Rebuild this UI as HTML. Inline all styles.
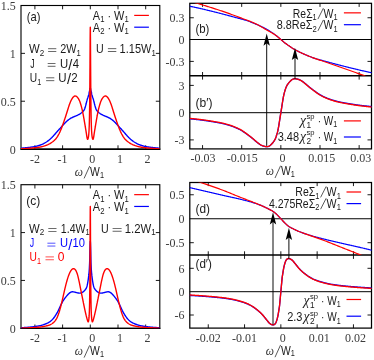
<!DOCTYPE html>
<html><head><meta charset="utf-8"><title>figure</title>
<style>html,body{margin:0;padding:0;background:#fff;}svg{display:block;will-change:transform;}text{white-space:pre;}</style></head>
<body>
<svg width="374" height="360" viewBox="0 0 374 360">
<rect width="374" height="360" fill="#fff"/>
<defs>
<clipPath id="cA"><rect x="21.0" y="5.5" width="138.8" height="143.6"/></clipPath>
<clipPath id="cC"><rect x="21.0" y="184.7" width="138.8" height="143.6"/></clipPath>
<clipPath id="cB"><rect x="189.8" y="3.3" width="181.7" height="72.5"/></clipPath>
<clipPath id="cB2"><rect x="189.8" y="75.8" width="181.7" height="73.10000000000001"/></clipPath>
<clipPath id="cD"><rect x="189.8" y="182.5" width="181.7" height="72.6"/></clipPath>
<clipPath id="cD2"><rect x="189.8" y="255.1" width="181.7" height="73.00000000000003"/></clipPath>
</defs>
<rect x="21.0" y="5.5" width="138.8" height="143.6" fill="none" stroke="#000000" stroke-width="1.12"/>
<line x1="20.44" y1="149.2" x2="160.36" y2="149.2" stroke="#000000" stroke-width="1.35" />
<line x1="34.9" y1="149.1" x2="34.9" y2="145.3" stroke="#000000" stroke-width="0.9" />
<line x1="34.9" y1="5.5" x2="34.9" y2="9.3" stroke="#000000" stroke-width="0.9" />
<line x1="62.6" y1="149.1" x2="62.6" y2="145.3" stroke="#000000" stroke-width="0.9" />
<line x1="62.6" y1="5.5" x2="62.6" y2="9.3" stroke="#000000" stroke-width="0.9" />
<line x1="90.3" y1="149.1" x2="90.3" y2="145.3" stroke="#000000" stroke-width="0.9" />
<line x1="90.3" y1="5.5" x2="90.3" y2="9.3" stroke="#000000" stroke-width="0.9" />
<line x1="118" y1="149.1" x2="118" y2="145.3" stroke="#000000" stroke-width="0.9" />
<line x1="118" y1="5.5" x2="118" y2="9.3" stroke="#000000" stroke-width="0.9" />
<line x1="145.7" y1="149.1" x2="145.7" y2="145.3" stroke="#000000" stroke-width="0.9" />
<line x1="145.7" y1="5.5" x2="145.7" y2="9.3" stroke="#000000" stroke-width="0.9" />
<line x1="21" y1="101.23" x2="25" y2="101.23" stroke="#000000" stroke-width="0.9" />
<line x1="159.8" y1="101.23" x2="155.8" y2="101.23" stroke="#000000" stroke-width="0.9" />
<line x1="21" y1="53.37" x2="25" y2="53.37" stroke="#000000" stroke-width="0.9" />
<line x1="159.8" y1="53.37" x2="155.8" y2="53.37" stroke="#000000" stroke-width="0.9" />
<rect x="21.0" y="184.7" width="138.8" height="143.6" fill="none" stroke="#000000" stroke-width="1.12"/>
<line x1="20.44" y1="328.4" x2="160.36" y2="328.4" stroke="#000000" stroke-width="1.35" />
<line x1="34.9" y1="328.3" x2="34.9" y2="324.5" stroke="#000000" stroke-width="0.9" />
<line x1="34.9" y1="184.7" x2="34.9" y2="188.5" stroke="#000000" stroke-width="0.9" />
<line x1="62.6" y1="328.3" x2="62.6" y2="324.5" stroke="#000000" stroke-width="0.9" />
<line x1="62.6" y1="184.7" x2="62.6" y2="188.5" stroke="#000000" stroke-width="0.9" />
<line x1="90.3" y1="328.3" x2="90.3" y2="324.5" stroke="#000000" stroke-width="0.9" />
<line x1="90.3" y1="184.7" x2="90.3" y2="188.5" stroke="#000000" stroke-width="0.9" />
<line x1="118" y1="328.3" x2="118" y2="324.5" stroke="#000000" stroke-width="0.9" />
<line x1="118" y1="184.7" x2="118" y2="188.5" stroke="#000000" stroke-width="0.9" />
<line x1="145.7" y1="328.3" x2="145.7" y2="324.5" stroke="#000000" stroke-width="0.9" />
<line x1="145.7" y1="184.7" x2="145.7" y2="188.5" stroke="#000000" stroke-width="0.9" />
<line x1="21" y1="280.43" x2="25" y2="280.43" stroke="#000000" stroke-width="0.9" />
<line x1="159.8" y1="280.43" x2="155.8" y2="280.43" stroke="#000000" stroke-width="0.9" />
<line x1="21" y1="232.57" x2="25" y2="232.57" stroke="#000000" stroke-width="0.9" />
<line x1="159.8" y1="232.57" x2="155.8" y2="232.57" stroke="#000000" stroke-width="0.9" />
<rect x="189.8" y="3.3" width="181.7" height="145.6" fill="none" stroke="#000000" stroke-width="1.25"/>
<line x1="189.8" y1="75.8" x2="371.5" y2="75.8" stroke="#000000" stroke-width="1.5" />
<line x1="189.8" y1="39.5" x2="371.5" y2="39.5" stroke="#000000" stroke-width="1.0" />
<line x1="189.8" y1="112.7" x2="371.5" y2="112.7" stroke="#000000" stroke-width="1.0" />
<line x1="202.55" y1="3.3" x2="202.55" y2="6.9" stroke="#000000" stroke-width="0.9" />
<line x1="202.55" y1="72" x2="202.55" y2="79.6" stroke="#000000" stroke-width="0.9" />
<line x1="202.55" y1="148.9" x2="202.55" y2="145.1" stroke="#000000" stroke-width="0.9" />
<line x1="241.7" y1="3.3" x2="241.7" y2="6.9" stroke="#000000" stroke-width="0.9" />
<line x1="241.7" y1="72" x2="241.7" y2="79.6" stroke="#000000" stroke-width="0.9" />
<line x1="241.7" y1="148.9" x2="241.7" y2="145.1" stroke="#000000" stroke-width="0.9" />
<line x1="280.85" y1="3.3" x2="280.85" y2="6.9" stroke="#000000" stroke-width="0.9" />
<line x1="280.85" y1="72" x2="280.85" y2="79.6" stroke="#000000" stroke-width="0.9" />
<line x1="280.85" y1="148.9" x2="280.85" y2="145.1" stroke="#000000" stroke-width="0.9" />
<line x1="320" y1="3.3" x2="320" y2="6.9" stroke="#000000" stroke-width="0.9" />
<line x1="320" y1="72" x2="320" y2="79.6" stroke="#000000" stroke-width="0.9" />
<line x1="320" y1="148.9" x2="320" y2="145.1" stroke="#000000" stroke-width="0.9" />
<line x1="359.15" y1="3.3" x2="359.15" y2="6.9" stroke="#000000" stroke-width="0.9" />
<line x1="359.15" y1="72" x2="359.15" y2="79.6" stroke="#000000" stroke-width="0.9" />
<line x1="359.15" y1="148.9" x2="359.15" y2="145.1" stroke="#000000" stroke-width="0.9" />
<line x1="189.8" y1="17.75" x2="193.8" y2="17.75" stroke="#000000" stroke-width="0.9" />
<line x1="371.5" y1="17.75" x2="367.5" y2="17.75" stroke="#000000" stroke-width="0.9" />
<line x1="189.8" y1="61.4" x2="193.8" y2="61.4" stroke="#000000" stroke-width="0.9" />
<line x1="371.5" y1="61.4" x2="367.5" y2="61.4" stroke="#000000" stroke-width="0.9" />
<line x1="189.8" y1="85.4" x2="193.8" y2="85.4" stroke="#000000" stroke-width="0.9" />
<line x1="371.5" y1="85.4" x2="367.5" y2="85.4" stroke="#000000" stroke-width="0.9" />
<line x1="189.8" y1="139.9" x2="193.8" y2="139.9" stroke="#000000" stroke-width="0.9" />
<line x1="371.5" y1="139.9" x2="367.5" y2="139.9" stroke="#000000" stroke-width="0.9" />
<rect x="189.8" y="182.5" width="181.7" height="145.6" fill="none" stroke="#000000" stroke-width="1.25"/>
<line x1="189.8" y1="255.1" x2="371.5" y2="255.1" stroke="#000000" stroke-width="1.5" />
<line x1="189.8" y1="218.75" x2="371.5" y2="218.75" stroke="#000000" stroke-width="1.0" />
<line x1="189.8" y1="291.7" x2="371.5" y2="291.7" stroke="#000000" stroke-width="1.0" />
<line x1="208.25" y1="182.5" x2="208.25" y2="186.1" stroke="#000000" stroke-width="0.9" />
<line x1="208.25" y1="251.3" x2="208.25" y2="258.9" stroke="#000000" stroke-width="0.9" />
<line x1="208.25" y1="328.1" x2="208.25" y2="324.3" stroke="#000000" stroke-width="0.9" />
<line x1="244.55" y1="182.5" x2="244.55" y2="186.1" stroke="#000000" stroke-width="0.9" />
<line x1="244.55" y1="251.3" x2="244.55" y2="258.9" stroke="#000000" stroke-width="0.9" />
<line x1="244.55" y1="328.1" x2="244.55" y2="324.3" stroke="#000000" stroke-width="0.9" />
<line x1="280.85" y1="182.5" x2="280.85" y2="186.1" stroke="#000000" stroke-width="0.9" />
<line x1="280.85" y1="251.3" x2="280.85" y2="258.9" stroke="#000000" stroke-width="0.9" />
<line x1="280.85" y1="328.1" x2="280.85" y2="324.3" stroke="#000000" stroke-width="0.9" />
<line x1="317.15" y1="182.5" x2="317.15" y2="186.1" stroke="#000000" stroke-width="0.9" />
<line x1="317.15" y1="251.3" x2="317.15" y2="258.9" stroke="#000000" stroke-width="0.9" />
<line x1="317.15" y1="328.1" x2="317.15" y2="324.3" stroke="#000000" stroke-width="0.9" />
<line x1="353.45" y1="182.5" x2="353.45" y2="186.1" stroke="#000000" stroke-width="0.9" />
<line x1="353.45" y1="251.3" x2="353.45" y2="258.9" stroke="#000000" stroke-width="0.9" />
<line x1="353.45" y1="328.1" x2="353.45" y2="324.3" stroke="#000000" stroke-width="0.9" />
<line x1="189.8" y1="194.75" x2="193.8" y2="194.75" stroke="#000000" stroke-width="0.9" />
<line x1="371.5" y1="194.75" x2="367.5" y2="194.75" stroke="#000000" stroke-width="0.9" />
<line x1="189.8" y1="242.7" x2="193.8" y2="242.7" stroke="#000000" stroke-width="0.9" />
<line x1="371.5" y1="242.7" x2="367.5" y2="242.7" stroke="#000000" stroke-width="0.9" />
<line x1="189.8" y1="268.3" x2="193.8" y2="268.3" stroke="#000000" stroke-width="0.9" />
<line x1="371.5" y1="268.3" x2="367.5" y2="268.3" stroke="#000000" stroke-width="0.9" />
<line x1="189.8" y1="315" x2="193.8" y2="315" stroke="#000000" stroke-width="0.9" />
<line x1="371.5" y1="315" x2="367.5" y2="315" stroke="#000000" stroke-width="0.9" />
<path d="M21.05 148.19 L21.45 148.16 L21.84 148.14 L22.24 148.11 L22.63 148.07 L23.03 148.04 L23.42 148.01 L23.82 147.97 L24.22 147.94 L24.61 147.9 L25.01 147.86 L25.4 147.82 L25.8 147.78 L26.19 147.74 L26.59 147.7 L26.99 147.65 L27.38 147.61 L27.78 147.56 L28.17 147.51 L28.57 147.47 L28.96 147.42 L29.36 147.37 L29.76 147.32 L30.15 147.27 L30.55 147.22 L30.94 147.17 L31.34 147.11 L31.73 147.06 L32.13 147 L32.53 146.95 L32.92 146.89 L33.32 146.83 L33.71 146.76 L34.11 146.7 L34.5 146.62 L34.9 146.55 L35.3 146.46 L35.69 146.38 L36.09 146.29 L36.48 146.19 L36.88 146.09 L37.27 145.98 L37.67 145.88 L38.07 145.76 L38.46 145.65 L38.86 145.53 L39.25 145.41 L39.65 145.28 L40.04 145.15 L40.44 145.01 L40.84 144.86 L41.23 144.71 L41.63 144.56 L42.02 144.39 L42.42 144.22 L42.81 144.04 L43.21 143.85 L43.61 143.65 L44 143.44 L44.4 143.22 L44.79 143 L45.19 142.76 L45.58 142.52 L45.98 142.27 L46.38 142.01 L46.77 141.74 L47.17 141.47 L47.56 141.18 L47.96 140.89 L48.35 140.58 L48.75 140.27 L49.15 139.95 L49.54 139.62 L49.94 139.28 L50.33 138.93 L50.73 138.57 L51.12 138.2 L51.52 137.82 L51.92 137.43 L52.31 137.03 L52.71 136.61 L53.1 136.19 L53.5 135.76 L53.89 135.32 L54.29 134.88 L54.69 134.43 L55.08 133.98 L55.48 133.52 L55.87 133.07 L56.27 132.61 L56.66 132.16 L57.06 131.7 L57.46 131.25 L57.85 130.81 L58.25 130.36 L58.64 129.92 L59.04 129.48 L59.43 129.04 L59.83 128.6 L60.23 128.17 L60.62 127.73 L61.02 127.3 L61.41 126.86 L61.81 126.42 L62.2 125.99 L62.6 125.55 L63 125.12 L63.39 124.69 L63.79 124.25 L64.18 123.82 L64.58 123.4 L64.97 122.98 L65.37 122.56 L65.77 122.16 L66.16 121.77 L66.56 121.4 L66.95 121.04 L67.35 120.7 L67.74 120.37 L68.14 120.07 L68.54 119.77 L68.93 119.49 L69.33 119.22 L69.72 118.96 L70.12 118.7 L70.51 118.45 L70.91 118.21 L71.31 117.98 L71.7 117.76 L72.1 117.55 L72.49 117.35 L72.89 117.16 L73.28 116.99 L73.68 116.82 L74.08 116.65 L74.47 116.5 L74.87 116.34 L75.26 116.19 L75.66 116.03 L76.05 115.87 L76.45 115.7 L76.85 115.52 L77.24 115.34 L77.64 115.15 L78.03 114.95 L78.43 114.73 L78.82 114.52 L79.22 114.29 L79.62 114.05 L80.01 113.81 L80.41 113.55 L80.8 113.28 L81.2 113 L81.59 112.7 L81.99 112.37 L82.06 112.31 L82.13 112.25 L82.2 112.19 L82.27 112.13 L82.34 112.07 L82.39 112.03 L82.41 112.01 L82.47 111.95 L82.54 111.89 L82.61 111.83 L82.68 111.76 L82.75 111.7 L82.78 111.67 L82.82 111.63 L82.89 111.57 L82.96 111.5 L83.03 111.43 L83.1 111.36 L83.17 111.29 L83.18 111.28 L83.24 111.21 L83.31 111.13 L83.38 111.06 L83.44 110.97 L83.51 110.89 L83.57 110.82 L83.58 110.8 L83.65 110.71 L83.72 110.62 L83.79 110.52 L83.86 110.42 L83.93 110.32 L83.97 110.26 L84 110.22 L84.07 110.1 L84.14 109.99 L84.21 109.87 L84.28 109.73 L84.34 109.59 L84.36 109.55 L84.41 109.45 L84.48 109.29 L84.55 109.13 L84.62 108.95 L84.69 108.77 L84.76 108.59 L84.83 108.39 L84.9 108.19 L84.97 107.98 L85.04 107.76 L85.11 107.54 L85.16 107.38 L85.18 107.32 L85.24 107.08 L85.31 106.85 L85.38 106.6 L85.45 106.36 L85.52 106.11 L85.55 106.01 L85.59 105.86 L85.66 105.61 L85.73 105.36 L85.8 105.1 L85.87 104.84 L85.94 104.57 L85.95 104.53 L86.01 104.29 L86.08 104.02 L86.14 103.73 L86.21 103.45 L86.28 103.16 L86.34 102.92 L86.35 102.88 L86.42 102.59 L86.49 102.3 L86.56 102.02 L86.63 101.73 L86.7 101.45 L86.74 101.29 L86.77 101.18 L86.84 100.9 L86.91 100.64 L86.98 100.38 L87.05 100.13 L87.11 99.88 L87.13 99.81 L87.18 99.64 L87.25 99.41 L87.32 99.19 L87.39 98.97 L87.46 98.75 L87.53 98.54 L87.6 98.33 L87.67 98.12 L87.74 97.92 L87.81 97.71 L87.88 97.51 L87.93 97.36 L87.95 97.3 L88.01 97.09 L88.08 96.88 L88.15 96.67 L88.22 96.45 L88.29 96.23 L88.32 96.13 L88.36 96 L88.43 95.76 L88.5 95.52 L88.57 95.27 L88.64 95.01 L88.67 94.9 L88.69 94.79 L88.71 94.74 L88.72 94.7 L88.72 94.68 L88.75 94.57 L88.78 94.45 L88.8 94.33 L88.83 94.21 L88.85 94.15 L88.86 94.08 L88.89 93.96 L88.91 93.83 L88.94 93.7 L88.97 93.57 L88.98 93.51 L89 93.44 L89.03 93.31 L89.05 93.18 L89.08 93.05 L89.11 92.91 L89.11 92.89 L89.12 92.85 L89.14 92.78 L89.16 92.65 L89.19 92.51 L89.22 92.38 L89.25 92.24 L89.26 92.18 L89.28 92.11 L89.3 91.98 L89.33 91.85 L89.36 91.72 L89.39 91.59 L89.4 91.52 L89.41 91.46 L89.44 91.33 L89.47 91.21 L89.5 91.09 L89.51 91.03 L89.52 90.96 L89.54 90.9 L89.55 90.83 L89.58 90.7 L89.61 90.57 L89.64 90.44 L89.66 90.31 L89.68 90.24 L89.69 90.17 L89.72 90.04 L89.75 89.9 L89.77 89.77 L89.8 89.64 L89.82 89.58 L89.83 89.51 L89.86 89.39 L89.88 89.27 L89.9 89.18 L89.91 89.15 L89.94 89.03 L89.95 88.98 L89.97 88.93 L90 88.82 L90.02 88.73 L90.05 88.64 L90.08 88.55 L90.09 88.52 L90.11 88.48 L90.13 88.41 L90.16 88.35 L90.19 88.3 L90.22 88.27 L90.23 88.25 L90.24 88.24 L90.27 88.22 L90.3 88.21 L90.33 88.22 L90.36 88.24 L90.37 88.25 L90.38 88.27 L90.41 88.3 L90.44 88.35 L90.47 88.41 L90.49 88.48 L90.51 88.52 L90.52 88.55 L90.55 88.64 L90.58 88.73 L90.6 88.82 L90.63 88.93 L90.65 88.98 L90.66 89.03 L90.69 89.15 L90.7 89.18 L90.72 89.27 L90.74 89.39 L90.77 89.51 L90.78 89.58 L90.8 89.64 L90.83 89.77 L90.85 89.9 L90.88 90.04 L90.91 90.17 L90.92 90.24 L90.94 90.31 L90.96 90.44 L90.99 90.57 L91.02 90.7 L91.05 90.83 L91.06 90.9 L91.08 90.96 L91.09 91.03 L91.1 91.09 L91.13 91.21 L91.16 91.33 L91.19 91.46 L91.2 91.52 L91.21 91.59 L91.24 91.72 L91.27 91.85 L91.3 91.98 L91.32 92.11 L91.34 92.18 L91.35 92.24 L91.38 92.38 L91.41 92.51 L91.44 92.65 L91.46 92.78 L91.48 92.85 L91.49 92.89 L91.49 92.91 L91.52 93.05 L91.55 93.18 L91.57 93.31 L91.6 93.44 L91.62 93.51 L91.63 93.57 L91.66 93.7 L91.69 93.83 L91.71 93.96 L91.74 94.08 L91.75 94.15 L91.77 94.21 L91.8 94.33 L91.82 94.45 L91.85 94.57 L91.88 94.68 L91.88 94.7 L91.89 94.74 L91.91 94.79 L91.93 94.9 L91.96 95.01 L92.03 95.27 L92.1 95.52 L92.17 95.76 L92.24 96 L92.28 96.13 L92.31 96.23 L92.38 96.45 L92.45 96.67 L92.52 96.88 L92.59 97.09 L92.65 97.3 L92.67 97.36 L92.72 97.51 L92.79 97.71 L92.86 97.92 L92.93 98.12 L93 98.33 L93.07 98.54 L93.14 98.75 L93.21 98.97 L93.28 99.19 L93.35 99.41 L93.42 99.64 L93.47 99.81 L93.49 99.88 L93.55 100.13 L93.62 100.38 L93.69 100.64 L93.76 100.9 L93.83 101.18 L93.86 101.29 L93.9 101.45 L93.97 101.73 L94.04 102.02 L94.11 102.3 L94.18 102.59 L94.25 102.88 L94.26 102.92 L94.32 103.16 L94.39 103.45 L94.45 103.73 L94.52 104.02 L94.59 104.29 L94.65 104.53 L94.66 104.57 L94.73 104.84 L94.8 105.1 L94.87 105.36 L94.94 105.61 L95.01 105.86 L95.05 106.01 L95.08 106.11 L95.15 106.36 L95.22 106.6 L95.29 106.85 L95.36 107.08 L95.42 107.32 L95.44 107.38 L95.49 107.54 L95.56 107.76 L95.63 107.98 L95.7 108.19 L95.77 108.39 L95.84 108.59 L95.91 108.77 L95.98 108.95 L96.05 109.13 L96.12 109.29 L96.19 109.45 L96.24 109.55 L96.26 109.59 L96.32 109.73 L96.39 109.87 L96.46 109.99 L96.53 110.1 L96.6 110.22 L96.63 110.26 L96.67 110.32 L96.74 110.42 L96.81 110.52 L96.88 110.62 L96.95 110.71 L97.02 110.8 L97.03 110.82 L97.09 110.89 L97.16 110.97 L97.22 111.06 L97.29 111.13 L97.36 111.21 L97.42 111.28 L97.43 111.29 L97.5 111.36 L97.57 111.43 L97.64 111.5 L97.71 111.57 L97.78 111.63 L97.82 111.67 L97.85 111.7 L97.92 111.76 L97.99 111.83 L98.06 111.89 L98.13 111.95 L98.19 112.01 L98.21 112.03 L98.26 112.07 L98.33 112.13 L98.4 112.19 L98.47 112.25 L98.54 112.31 L98.61 112.37 L99.01 112.7 L99.4 113 L99.8 113.28 L100.19 113.55 L100.59 113.81 L100.98 114.05 L101.38 114.29 L101.78 114.52 L102.17 114.73 L102.57 114.95 L102.96 115.15 L103.36 115.34 L103.75 115.52 L104.15 115.7 L104.55 115.87 L104.94 116.03 L105.34 116.19 L105.73 116.34 L106.13 116.5 L106.52 116.65 L106.92 116.82 L107.32 116.99 L107.71 117.16 L108.11 117.35 L108.5 117.55 L108.9 117.76 L109.29 117.98 L109.69 118.21 L110.09 118.45 L110.48 118.7 L110.88 118.96 L111.27 119.22 L111.67 119.49 L112.06 119.77 L112.46 120.07 L112.86 120.37 L113.25 120.7 L113.65 121.04 L114.04 121.4 L114.44 121.77 L114.83 122.16 L115.23 122.56 L115.63 122.98 L116.02 123.4 L116.42 123.82 L116.81 124.25 L117.21 124.69 L117.6 125.12 L118 125.55 L118.4 125.99 L118.79 126.42 L119.19 126.86 L119.58 127.3 L119.98 127.73 L120.37 128.17 L120.77 128.6 L121.17 129.04 L121.56 129.48 L121.96 129.92 L122.35 130.36 L122.75 130.81 L123.14 131.25 L123.54 131.7 L123.94 132.16 L124.33 132.61 L124.73 133.07 L125.12 133.52 L125.52 133.98 L125.91 134.43 L126.31 134.88 L126.71 135.32 L127.1 135.76 L127.5 136.19 L127.89 136.61 L128.29 137.03 L128.68 137.43 L129.08 137.82 L129.48 138.2 L129.87 138.57 L130.27 138.93 L130.66 139.28 L131.06 139.62 L131.45 139.95 L131.85 140.27 L132.25 140.58 L132.64 140.89 L133.04 141.18 L133.43 141.47 L133.83 141.74 L134.22 142.01 L134.62 142.27 L135.02 142.52 L135.41 142.76 L135.81 143 L136.2 143.22 L136.6 143.44 L136.99 143.65 L137.39 143.85 L137.79 144.04 L138.18 144.22 L138.58 144.39 L138.97 144.56 L139.37 144.71 L139.76 144.86 L140.16 145.01 L140.56 145.15 L140.95 145.28 L141.35 145.41 L141.74 145.53 L142.14 145.65 L142.53 145.76 L142.93 145.88 L143.33 145.98 L143.72 146.09 L144.12 146.19 L144.51 146.29 L144.91 146.38 L145.3 146.46 L145.7 146.55 L146.1 146.62 L146.49 146.7 L146.89 146.76 L147.28 146.83 L147.68 146.89 L148.07 146.95 L148.47 147 L148.87 147.06 L149.26 147.11 L149.66 147.17 L150.05 147.22 L150.45 147.27 L150.84 147.32 L151.24 147.37 L151.64 147.42 L152.03 147.47 L152.43 147.51 L152.82 147.56 L153.22 147.61 L153.61 147.65 L154.01 147.7 L154.41 147.74 L154.8 147.78 L155.2 147.82 L155.59 147.86 L155.99 147.9 L156.38 147.94 L156.78 147.97 L157.18 148.01 L157.57 148.04 L157.97 148.07 L158.36 148.11 L158.76 148.14 L159.15 148.16 L159.55 148.19" fill="none" stroke="#0000ff" stroke-width="1.4" stroke-linejoin="round" stroke-linecap="butt" clip-path="url(#cA)"/>
<path d="M21.05 148.81 L21.45 148.79 L21.84 148.78 L22.24 148.76 L22.63 148.73 L23.03 148.71 L23.42 148.69 L23.82 148.67 L24.22 148.64 L24.61 148.62 L25.01 148.59 L25.4 148.56 L25.8 148.54 L26.19 148.51 L26.59 148.48 L26.99 148.45 L27.38 148.42 L27.78 148.39 L28.17 148.36 L28.57 148.33 L28.96 148.3 L29.36 148.27 L29.76 148.24 L30.15 148.21 L30.55 148.18 L30.94 148.14 L31.34 148.11 L31.73 148.08 L32.13 148.05 L32.53 148.01 L32.92 147.98 L33.32 147.94 L33.71 147.9 L34.11 147.86 L34.5 147.82 L34.9 147.78 L35.3 147.74 L35.69 147.69 L36.09 147.64 L36.48 147.59 L36.88 147.54 L37.27 147.49 L37.67 147.43 L38.07 147.37 L38.46 147.31 L38.86 147.25 L39.25 147.19 L39.65 147.12 L40.04 147.05 L40.44 146.98 L40.84 146.9 L41.23 146.82 L41.63 146.72 L42.02 146.63 L42.42 146.53 L42.81 146.42 L43.21 146.3 L43.61 146.19 L44 146.07 L44.4 145.94 L44.79 145.81 L45.19 145.68 L45.58 145.54 L45.98 145.4 L46.38 145.25 L46.77 145.1 L47.17 144.94 L47.56 144.77 L47.96 144.59 L48.35 144.4 L48.75 144.21 L49.15 144 L49.54 143.78 L49.94 143.55 L50.33 143.31 L50.73 143.06 L51.12 142.81 L51.52 142.54 L51.92 142.27 L52.31 141.99 L52.71 141.7 L53.1 141.4 L53.5 141.08 L53.89 140.75 L54.29 140.39 L54.69 140.01 L55.08 139.61 L55.48 139.18 L55.87 138.72 L56.27 138.22 L56.66 137.7 L57.06 137.13 L57.46 136.54 L57.85 135.9 L58.25 135.23 L58.64 134.52 L59.04 133.76 L59.43 132.97 L59.83 132.13 L60.23 131.26 L60.62 130.34 L61.02 129.39 L61.41 128.4 L61.81 127.38 L62.2 126.32 L62.6 125.25 L63 124.14 L63.39 123.02 L63.79 121.88 L64.18 120.73 L64.58 119.56 L64.97 118.38 L65.37 117.19 L65.77 115.97 L66.16 114.75 L66.56 113.5 L66.95 112.24 L67.35 110.97 L67.74 109.69 L68.14 108.42 L68.54 107.16 L68.93 105.95 L69.33 104.78 L69.72 103.68 L70.12 102.65 L70.51 101.69 L70.91 100.82 L71.31 100.02 L71.7 99.3 L72.1 98.64 L72.49 98.05 L72.89 97.53 L73.28 97.07 L73.68 96.69 L74.08 96.39 L74.47 96.17 L74.87 96.04 L75.26 96.01 L75.66 96.07 L76.05 96.21 L76.45 96.44 L76.85 96.74 L77.24 97.12 L77.64 97.57 L78.03 98.1 L78.43 98.7 L78.82 99.39 L79.22 100.17 L79.62 101.06 L80.01 102.06 L80.41 103.19 L80.8 104.45 L81.2 105.84 L81.59 107.32 L81.99 108.91 L82.06 109.2 L82.13 109.5 L82.2 109.8 L82.27 110.1 L82.34 110.41 L82.39 110.63 L82.41 110.72 L82.47 111.04 L82.54 111.37 L82.61 111.7 L82.68 112.03 L82.75 112.38 L82.78 112.52 L82.82 112.72 L82.89 113.07 L82.96 113.42 L83.03 113.78 L83.1 114.14 L83.17 114.5 L83.18 114.56 L83.24 114.87 L83.31 115.24 L83.38 115.61 L83.44 115.99 L83.51 116.37 L83.57 116.7 L83.58 116.75 L83.65 117.14 L83.72 117.52 L83.79 117.91 L83.86 118.3 L83.93 118.7 L83.97 118.92 L84 119.09 L84.07 119.49 L84.14 119.89 L84.21 120.29 L84.28 120.7 L84.34 121.1 L84.36 121.22 L84.41 121.51 L84.48 121.91 L84.55 122.32 L84.62 122.73 L84.69 123.14 L84.76 123.56 L84.83 123.97 L84.9 124.39 L84.97 124.8 L85.04 125.22 L85.11 125.64 L85.16 125.94 L85.18 126.06 L85.24 126.48 L85.31 126.9 L85.38 127.32 L85.45 127.74 L85.52 128.16 L85.55 128.34 L85.59 128.58 L85.66 129 L85.73 129.42 L85.8 129.84 L85.87 130.25 L85.94 130.67 L85.95 130.73 L86.01 131.08 L86.08 131.5 L86.14 131.91 L86.21 132.33 L86.28 132.78 L86.34 133.17 L86.35 133.24 L86.42 133.71 L86.49 134.2 L86.56 134.68 L86.63 135.16 L86.7 135.64 L86.74 135.9 L86.77 136.1 L86.84 136.54 L86.91 136.97 L86.98 137.36 L87.05 137.73 L87.11 138.06 L87.13 138.15 L87.18 138.36 L87.25 138.62 L87.32 138.85 L87.39 139.03 L87.46 139.17 L87.53 139.27 L87.6 139.31 L87.67 139.31 L87.74 139.26 L87.81 139.18 L87.88 139.08 L87.93 138.99 L87.95 138.95 L88.01 138.78 L88.08 138.59 L88.15 138.36 L88.22 138.08 L88.29 137.77 L88.32 137.62 L88.36 137.41 L88.43 137 L88.5 136.55 L88.57 136.04 L88.64 135.48 L88.67 135.23 L88.69 134.97 L88.71 134.83 L88.72 134.73 L88.72 134.7 L88.75 134.41 L88.78 134.11 L88.8 133.79 L88.83 133.45 L88.85 133.28 L88.86 133.1 L88.89 132.73 L88.91 132.34 L88.94 131.92 L88.97 131.48 L88.98 131.25 L89 131.02 L89.03 130.52 L89.05 130 L89.08 129.45 L89.11 128.86 L89.11 128.78 L89.12 128.56 L89.14 128.24 L89.16 127.58 L89.19 126.88 L89.22 126.13 L89.25 125.34 L89.26 124.92 L89.28 124.49 L89.3 123.59 L89.33 122.63 L89.36 121.61 L89.39 120.51 L89.4 119.94 L89.41 119.34 L89.44 118.09 L89.47 116.75 L89.5 115.32 L89.51 114.67 L89.52 113.78 L89.54 112.97 L89.55 112.13 L89.58 110.36 L89.61 108.45 L89.64 106.41 L89.66 104.22 L89.68 103.06 L89.69 101.86 L89.72 99.33 L89.75 96.61 L89.77 93.7 L89.8 90.59 L89.82 88.96 L89.83 87.27 L89.86 83.74 L89.88 79.99 L89.9 77.21 L89.91 76.04 L89.94 71.89 L89.95 69.75 L89.97 67.57 L90 63.11 L90.02 58.56 L90.05 53.97 L90.08 49.43 L90.09 47.2 L90.11 45.02 L90.13 40.85 L90.16 37.04 L90.19 33.7 L90.22 30.96 L90.23 29.85 L90.24 28.92 L90.27 27.66 L90.3 27.23 L90.33 27.66 L90.36 28.92 L90.37 29.85 L90.38 30.96 L90.41 33.7 L90.44 37.04 L90.47 40.85 L90.49 45.02 L90.51 47.2 L90.52 49.43 L90.55 53.97 L90.58 58.56 L90.6 63.11 L90.63 67.57 L90.65 69.75 L90.66 71.89 L90.69 76.04 L90.7 77.21 L90.72 79.99 L90.74 83.74 L90.77 87.27 L90.78 88.96 L90.8 90.59 L90.83 93.7 L90.85 96.61 L90.88 99.33 L90.91 101.86 L90.92 103.06 L90.94 104.22 L90.96 106.41 L90.99 108.45 L91.02 110.36 L91.05 112.13 L91.06 112.97 L91.08 113.78 L91.09 114.67 L91.1 115.32 L91.13 116.75 L91.16 118.09 L91.19 119.34 L91.2 119.94 L91.21 120.51 L91.24 121.61 L91.27 122.63 L91.3 123.59 L91.32 124.49 L91.34 124.92 L91.35 125.34 L91.38 126.13 L91.41 126.88 L91.44 127.58 L91.46 128.24 L91.48 128.56 L91.49 128.78 L91.49 128.86 L91.52 129.45 L91.55 130 L91.57 130.52 L91.6 131.02 L91.62 131.25 L91.63 131.48 L91.66 131.92 L91.69 132.34 L91.71 132.73 L91.74 133.1 L91.75 133.28 L91.77 133.45 L91.8 133.79 L91.82 134.11 L91.85 134.41 L91.88 134.7 L91.88 134.73 L91.89 134.83 L91.91 134.97 L91.93 135.23 L91.96 135.48 L92.03 136.04 L92.1 136.55 L92.17 137 L92.24 137.41 L92.28 137.62 L92.31 137.77 L92.38 138.08 L92.45 138.36 L92.52 138.59 L92.59 138.78 L92.65 138.95 L92.67 138.99 L92.72 139.08 L92.79 139.18 L92.86 139.26 L92.93 139.31 L93 139.31 L93.07 139.27 L93.14 139.17 L93.21 139.03 L93.28 138.85 L93.35 138.62 L93.42 138.36 L93.47 138.15 L93.49 138.06 L93.55 137.73 L93.62 137.36 L93.69 136.97 L93.76 136.54 L93.83 136.1 L93.86 135.9 L93.9 135.64 L93.97 135.16 L94.04 134.68 L94.11 134.2 L94.18 133.71 L94.25 133.24 L94.26 133.17 L94.32 132.78 L94.39 132.33 L94.45 131.91 L94.52 131.5 L94.59 131.08 L94.65 130.73 L94.66 130.67 L94.73 130.25 L94.8 129.84 L94.87 129.42 L94.94 129 L95.01 128.58 L95.05 128.34 L95.08 128.16 L95.15 127.74 L95.22 127.32 L95.29 126.9 L95.36 126.48 L95.42 126.06 L95.44 125.94 L95.49 125.64 L95.56 125.22 L95.63 124.8 L95.7 124.39 L95.77 123.97 L95.84 123.56 L95.91 123.14 L95.98 122.73 L96.05 122.32 L96.12 121.91 L96.19 121.51 L96.24 121.22 L96.26 121.1 L96.32 120.7 L96.39 120.29 L96.46 119.89 L96.53 119.49 L96.6 119.09 L96.63 118.92 L96.67 118.7 L96.74 118.3 L96.81 117.91 L96.88 117.52 L96.95 117.14 L97.02 116.75 L97.03 116.7 L97.09 116.37 L97.16 115.99 L97.22 115.61 L97.29 115.24 L97.36 114.87 L97.42 114.56 L97.43 114.5 L97.5 114.14 L97.57 113.78 L97.64 113.42 L97.71 113.07 L97.78 112.72 L97.82 112.52 L97.85 112.38 L97.92 112.03 L97.99 111.7 L98.06 111.37 L98.13 111.04 L98.19 110.72 L98.21 110.63 L98.26 110.41 L98.33 110.1 L98.4 109.8 L98.47 109.5 L98.54 109.2 L98.61 108.91 L99.01 107.32 L99.4 105.84 L99.8 104.45 L100.19 103.19 L100.59 102.06 L100.98 101.06 L101.38 100.17 L101.78 99.39 L102.17 98.7 L102.57 98.1 L102.96 97.57 L103.36 97.12 L103.75 96.74 L104.15 96.44 L104.55 96.21 L104.94 96.07 L105.34 96.01 L105.73 96.04 L106.13 96.17 L106.52 96.39 L106.92 96.69 L107.32 97.07 L107.71 97.53 L108.11 98.05 L108.5 98.64 L108.9 99.3 L109.29 100.02 L109.69 100.82 L110.09 101.69 L110.48 102.65 L110.88 103.68 L111.27 104.78 L111.67 105.95 L112.06 107.16 L112.46 108.42 L112.86 109.69 L113.25 110.97 L113.65 112.24 L114.04 113.5 L114.44 114.75 L114.83 115.97 L115.23 117.19 L115.63 118.38 L116.02 119.56 L116.42 120.73 L116.81 121.88 L117.21 123.02 L117.6 124.14 L118 125.25 L118.4 126.32 L118.79 127.38 L119.19 128.4 L119.58 129.39 L119.98 130.34 L120.37 131.26 L120.77 132.13 L121.17 132.97 L121.56 133.76 L121.96 134.52 L122.35 135.23 L122.75 135.9 L123.14 136.54 L123.54 137.13 L123.94 137.7 L124.33 138.22 L124.73 138.72 L125.12 139.18 L125.52 139.61 L125.91 140.01 L126.31 140.39 L126.71 140.75 L127.1 141.08 L127.5 141.4 L127.89 141.7 L128.29 141.99 L128.68 142.27 L129.08 142.54 L129.48 142.81 L129.87 143.06 L130.27 143.31 L130.66 143.55 L131.06 143.78 L131.45 144 L131.85 144.21 L132.25 144.4 L132.64 144.59 L133.04 144.77 L133.43 144.94 L133.83 145.1 L134.22 145.25 L134.62 145.4 L135.02 145.54 L135.41 145.68 L135.81 145.81 L136.2 145.94 L136.6 146.07 L136.99 146.19 L137.39 146.3 L137.79 146.42 L138.18 146.53 L138.58 146.63 L138.97 146.72 L139.37 146.82 L139.76 146.9 L140.16 146.98 L140.56 147.05 L140.95 147.12 L141.35 147.19 L141.74 147.25 L142.14 147.31 L142.53 147.37 L142.93 147.43 L143.33 147.49 L143.72 147.54 L144.12 147.59 L144.51 147.64 L144.91 147.69 L145.3 147.74 L145.7 147.78 L146.1 147.82 L146.49 147.86 L146.89 147.9 L147.28 147.94 L147.68 147.98 L148.07 148.01 L148.47 148.05 L148.87 148.08 L149.26 148.11 L149.66 148.14 L150.05 148.18 L150.45 148.21 L150.84 148.24 L151.24 148.27 L151.64 148.3 L152.03 148.33 L152.43 148.36 L152.82 148.39 L153.22 148.42 L153.61 148.45 L154.01 148.48 L154.41 148.51 L154.8 148.54 L155.2 148.56 L155.59 148.59 L155.99 148.62 L156.38 148.64 L156.78 148.67 L157.18 148.69 L157.57 148.71 L157.97 148.73 L158.36 148.76 L158.76 148.78 L159.15 148.79 L159.55 148.81" fill="none" stroke="#ff0000" stroke-width="1.4" stroke-linejoin="round" stroke-linecap="butt" clip-path="url(#cA)"/>
<path d="M21.05 327.77 L21.45 327.75 L21.84 327.72 L22.24 327.7 L22.63 327.68 L23.03 327.65 L23.42 327.62 L23.82 327.6 L24.22 327.57 L24.61 327.54 L25.01 327.51 L25.4 327.48 L25.8 327.46 L26.19 327.43 L26.59 327.39 L26.99 327.36 L27.38 327.33 L27.78 327.3 L28.17 327.27 L28.57 327.24 L28.96 327.21 L29.36 327.17 L29.76 327.14 L30.15 327.1 L30.55 327.06 L30.94 327.02 L31.34 326.98 L31.73 326.94 L32.13 326.89 L32.53 326.84 L32.92 326.79 L33.32 326.74 L33.71 326.69 L34.11 326.63 L34.5 326.58 L34.9 326.52 L35.3 326.46 L35.69 326.4 L36.09 326.34 L36.48 326.28 L36.88 326.22 L37.27 326.15 L37.67 326.09 L38.07 326.02 L38.46 325.96 L38.86 325.89 L39.25 325.82 L39.65 325.74 L40.04 325.66 L40.44 325.58 L40.84 325.49 L41.23 325.39 L41.63 325.29 L42.02 325.18 L42.42 325.06 L42.81 324.94 L43.21 324.81 L43.61 324.67 L44 324.53 L44.4 324.38 L44.79 324.23 L45.19 324.07 L45.58 323.91 L45.98 323.74 L46.38 323.56 L46.77 323.38 L47.17 323.2 L47.56 323.01 L47.96 322.81 L48.35 322.6 L48.75 322.38 L49.15 322.15 L49.54 321.9 L49.94 321.63 L50.33 321.35 L50.73 321.04 L51.12 320.7 L51.52 320.34 L51.92 319.96 L52.31 319.56 L52.71 319.13 L53.1 318.68 L53.5 318.21 L53.89 317.72 L54.29 317.2 L54.69 316.66 L55.08 316.09 L55.48 315.5 L55.87 314.88 L56.27 314.24 L56.66 313.57 L57.06 312.87 L57.46 312.15 L57.85 311.39 L58.25 310.61 L58.64 309.79 L59.04 308.95 L59.43 308.09 L59.83 307.22 L60.23 306.35 L60.62 305.49 L61.02 304.65 L61.41 303.84 L61.81 303.07 L62.2 302.34 L62.6 301.65 L63 301 L63.39 300.38 L63.79 299.79 L64.18 299.22 L64.58 298.67 L64.97 298.14 L65.37 297.62 L65.77 297.11 L66.16 296.61 L66.56 296.13 L66.95 295.65 L67.35 295.19 L67.74 294.74 L68.14 294.31 L68.54 293.9 L68.93 293.52 L69.33 293.16 L69.72 292.84 L70.12 292.55 L70.51 292.31 L70.91 292.11 L71.31 291.96 L71.7 291.86 L72.1 291.8 L72.49 291.78 L72.89 291.8 L73.28 291.84 L73.68 291.9 L74.08 291.98 L74.47 292.07 L74.87 292.17 L75.26 292.27 L75.66 292.38 L76.05 292.48 L76.45 292.58 L76.85 292.68 L77.24 292.78 L77.64 292.87 L78.03 292.94 L78.43 293.01 L78.82 293.06 L79.22 293.09 L79.62 293.1 L80.01 293.08 L80.41 293.03 L80.8 292.95 L81.2 292.84 L81.59 292.71 L81.99 292.54 L82.06 292.5 L82.13 292.47 L82.2 292.43 L82.27 292.4 L82.34 292.36 L82.39 292.33 L82.41 292.32 L82.47 292.28 L82.54 292.24 L82.61 292.2 L82.68 292.16 L82.75 292.11 L82.78 292.09 L82.82 292.07 L82.89 292.02 L82.96 291.97 L83.03 291.93 L83.1 291.88 L83.17 291.82 L83.18 291.82 L83.24 291.77 L83.31 291.72 L83.38 291.66 L83.44 291.61 L83.51 291.55 L83.57 291.5 L83.58 291.49 L83.65 291.44 L83.72 291.37 L83.79 291.31 L83.86 291.25 L83.93 291.19 L83.97 291.15 L84 291.12 L84.07 291.05 L84.14 290.99 L84.21 290.92 L84.28 290.85 L84.34 290.78 L84.36 290.75 L84.41 290.7 L84.48 290.63 L84.55 290.55 L84.62 290.47 L84.69 290.4 L84.76 290.32 L84.83 290.24 L84.9 290.16 L84.97 290.08 L85.04 290 L85.11 289.92 L85.16 289.86 L85.18 289.84 L85.24 289.75 L85.31 289.66 L85.38 289.57 L85.45 289.48 L85.52 289.38 L85.55 289.34 L85.59 289.29 L85.66 289.19 L85.73 289.09 L85.8 288.99 L85.87 288.89 L85.94 288.79 L85.95 288.77 L86.01 288.68 L86.08 288.58 L86.14 288.47 L86.21 288.36 L86.28 288.23 L86.34 288.1 L86.35 288.08 L86.42 287.92 L86.49 287.74 L86.56 287.55 L86.63 287.35 L86.7 287.14 L86.74 287.01 L86.77 286.91 L86.84 286.68 L86.91 286.45 L86.98 286.2 L87.05 285.95 L87.11 285.7 L87.13 285.62 L87.18 285.43 L87.25 285.14 L87.32 284.83 L87.39 284.49 L87.46 284.15 L87.53 283.78 L87.6 283.4 L87.67 283.02 L87.74 282.62 L87.81 282.22 L87.88 281.81 L87.93 281.52 L87.95 281.4 L88.01 280.99 L88.08 280.58 L88.15 280.12 L88.22 279.64 L88.29 279.14 L88.32 278.91 L88.36 278.61 L88.43 278.05 L88.5 277.48 L88.57 276.9 L88.64 276.3 L88.67 276.06 L88.69 275.81 L88.71 275.69 L88.72 275.6 L88.72 275.57 L88.75 275.32 L88.78 275.08 L88.8 274.83 L88.83 274.58 L88.85 274.46 L88.86 274.34 L88.89 274.09 L88.91 273.84 L88.94 273.6 L88.97 273.35 L88.98 273.22 L89 273.09 L89.03 272.82 L89.05 272.53 L89.08 272.23 L89.11 271.9 L89.11 271.86 L89.12 271.73 L89.14 271.56 L89.16 271.2 L89.19 270.83 L89.22 270.44 L89.25 270.03 L89.26 269.82 L89.28 269.6 L89.3 269.16 L89.33 268.7 L89.36 268.23 L89.39 267.73 L89.4 267.48 L89.41 267.22 L89.44 266.7 L89.47 266.16 L89.5 265.6 L89.51 265.35 L89.52 265.02 L89.54 264.73 L89.55 264.43 L89.58 263.83 L89.61 263.2 L89.64 262.5 L89.66 261.67 L89.68 261.2 L89.69 260.73 L89.72 259.69 L89.75 258.57 L89.77 257.4 L89.8 256.18 L89.82 255.56 L89.83 254.94 L89.86 253.68 L89.88 252.44 L89.9 251.57 L89.91 251.21 L89.94 250.04 L89.95 249.48 L89.97 248.92 L90 247.88 L90.02 246.93 L90.05 246.04 L90.08 245.19 L90.09 244.79 L90.11 244.39 L90.13 243.65 L90.16 242.98 L90.19 242.41 L90.22 241.93 L90.23 241.76 L90.24 241.58 L90.27 241.36 L90.3 241.28 L90.33 241.36 L90.36 241.58 L90.37 241.76 L90.38 241.93 L90.41 242.41 L90.44 242.98 L90.47 243.65 L90.49 244.39 L90.51 244.79 L90.52 245.19 L90.55 246.04 L90.58 246.93 L90.6 247.88 L90.63 248.92 L90.65 249.48 L90.66 250.04 L90.69 251.21 L90.7 251.57 L90.72 252.44 L90.74 253.68 L90.77 254.94 L90.78 255.56 L90.8 256.18 L90.83 257.4 L90.85 258.57 L90.88 259.69 L90.91 260.73 L90.92 261.2 L90.94 261.67 L90.96 262.5 L90.99 263.2 L91.02 263.83 L91.05 264.43 L91.06 264.73 L91.08 265.02 L91.09 265.35 L91.1 265.6 L91.13 266.16 L91.16 266.7 L91.19 267.22 L91.2 267.48 L91.21 267.73 L91.24 268.23 L91.27 268.7 L91.3 269.16 L91.32 269.6 L91.34 269.82 L91.35 270.03 L91.38 270.44 L91.41 270.83 L91.44 271.2 L91.46 271.56 L91.48 271.73 L91.49 271.86 L91.49 271.9 L91.52 272.23 L91.55 272.53 L91.57 272.82 L91.6 273.09 L91.62 273.22 L91.63 273.35 L91.66 273.6 L91.69 273.84 L91.71 274.09 L91.74 274.34 L91.75 274.46 L91.77 274.58 L91.8 274.83 L91.82 275.08 L91.85 275.32 L91.88 275.57 L91.88 275.6 L91.89 275.69 L91.91 275.81 L91.93 276.06 L91.96 276.3 L92.03 276.9 L92.1 277.48 L92.17 278.05 L92.24 278.61 L92.28 278.91 L92.31 279.14 L92.38 279.64 L92.45 280.12 L92.52 280.58 L92.59 280.99 L92.65 281.4 L92.67 281.52 L92.72 281.81 L92.79 282.22 L92.86 282.62 L92.93 283.02 L93 283.4 L93.07 283.78 L93.14 284.15 L93.21 284.49 L93.28 284.83 L93.35 285.14 L93.42 285.43 L93.47 285.62 L93.49 285.7 L93.55 285.95 L93.62 286.2 L93.69 286.45 L93.76 286.68 L93.83 286.91 L93.86 287.01 L93.9 287.14 L93.97 287.35 L94.04 287.55 L94.11 287.74 L94.18 287.92 L94.25 288.08 L94.26 288.1 L94.32 288.23 L94.39 288.36 L94.45 288.47 L94.52 288.58 L94.59 288.68 L94.65 288.77 L94.66 288.79 L94.73 288.89 L94.8 288.99 L94.87 289.09 L94.94 289.19 L95.01 289.29 L95.05 289.34 L95.08 289.38 L95.15 289.48 L95.22 289.57 L95.29 289.66 L95.36 289.75 L95.42 289.84 L95.44 289.86 L95.49 289.92 L95.56 290 L95.63 290.08 L95.7 290.16 L95.77 290.24 L95.84 290.32 L95.91 290.4 L95.98 290.47 L96.05 290.55 L96.12 290.63 L96.19 290.7 L96.24 290.75 L96.26 290.78 L96.32 290.85 L96.39 290.92 L96.46 290.99 L96.53 291.05 L96.6 291.12 L96.63 291.15 L96.67 291.19 L96.74 291.25 L96.81 291.31 L96.88 291.37 L96.95 291.44 L97.02 291.49 L97.03 291.5 L97.09 291.55 L97.16 291.61 L97.22 291.66 L97.29 291.72 L97.36 291.77 L97.42 291.82 L97.43 291.82 L97.5 291.88 L97.57 291.93 L97.64 291.97 L97.71 292.02 L97.78 292.07 L97.82 292.09 L97.85 292.11 L97.92 292.16 L97.99 292.2 L98.06 292.24 L98.13 292.28 L98.19 292.32 L98.21 292.33 L98.26 292.36 L98.33 292.4 L98.4 292.43 L98.47 292.47 L98.54 292.5 L98.61 292.54 L99.01 292.71 L99.4 292.84 L99.8 292.95 L100.19 293.03 L100.59 293.08 L100.98 293.1 L101.38 293.09 L101.78 293.06 L102.17 293.01 L102.57 292.94 L102.96 292.87 L103.36 292.78 L103.75 292.68 L104.15 292.58 L104.55 292.48 L104.94 292.38 L105.34 292.27 L105.73 292.17 L106.13 292.07 L106.52 291.98 L106.92 291.9 L107.32 291.84 L107.71 291.8 L108.11 291.78 L108.5 291.8 L108.9 291.86 L109.29 291.96 L109.69 292.11 L110.09 292.31 L110.48 292.55 L110.88 292.84 L111.27 293.16 L111.67 293.52 L112.06 293.9 L112.46 294.31 L112.86 294.74 L113.25 295.19 L113.65 295.65 L114.04 296.13 L114.44 296.61 L114.83 297.11 L115.23 297.62 L115.63 298.14 L116.02 298.67 L116.42 299.22 L116.81 299.79 L117.21 300.38 L117.6 301 L118 301.65 L118.4 302.34 L118.79 303.07 L119.19 303.84 L119.58 304.65 L119.98 305.49 L120.37 306.35 L120.77 307.22 L121.17 308.09 L121.56 308.95 L121.96 309.79 L122.35 310.61 L122.75 311.39 L123.14 312.15 L123.54 312.87 L123.94 313.57 L124.33 314.24 L124.73 314.88 L125.12 315.5 L125.52 316.09 L125.91 316.66 L126.31 317.2 L126.71 317.72 L127.1 318.21 L127.5 318.68 L127.89 319.13 L128.29 319.56 L128.68 319.96 L129.08 320.34 L129.48 320.7 L129.87 321.04 L130.27 321.35 L130.66 321.63 L131.06 321.9 L131.45 322.15 L131.85 322.38 L132.25 322.6 L132.64 322.81 L133.04 323.01 L133.43 323.2 L133.83 323.38 L134.22 323.56 L134.62 323.74 L135.02 323.91 L135.41 324.07 L135.81 324.23 L136.2 324.38 L136.6 324.53 L136.99 324.67 L137.39 324.81 L137.79 324.94 L138.18 325.06 L138.58 325.18 L138.97 325.29 L139.37 325.39 L139.76 325.49 L140.16 325.58 L140.56 325.66 L140.95 325.74 L141.35 325.82 L141.74 325.89 L142.14 325.96 L142.53 326.02 L142.93 326.09 L143.33 326.15 L143.72 326.22 L144.12 326.28 L144.51 326.34 L144.91 326.4 L145.3 326.46 L145.7 326.52 L146.1 326.58 L146.49 326.63 L146.89 326.69 L147.28 326.74 L147.68 326.79 L148.07 326.84 L148.47 326.89 L148.87 326.94 L149.26 326.98 L149.66 327.02 L150.05 327.06 L150.45 327.1 L150.84 327.14 L151.24 327.17 L151.64 327.21 L152.03 327.24 L152.43 327.27 L152.82 327.3 L153.22 327.33 L153.61 327.36 L154.01 327.39 L154.41 327.43 L154.8 327.46 L155.2 327.48 L155.59 327.51 L155.99 327.54 L156.38 327.57 L156.78 327.6 L157.18 327.62 L157.57 327.65 L157.97 327.68 L158.36 327.7 L158.76 327.72 L159.15 327.75 L159.55 327.77" fill="none" stroke="#0000ff" stroke-width="1.4" stroke-linejoin="round" stroke-linecap="butt" clip-path="url(#cC)"/>
<path d="M21.05 328.13 L21.45 328.12 L21.84 328.1 L22.24 328.09 L22.63 328.08 L23.03 328.06 L23.42 328.05 L23.82 328.03 L24.22 328.02 L24.61 328 L25.01 327.98 L25.4 327.97 L25.8 327.95 L26.19 327.93 L26.59 327.91 L26.99 327.9 L27.38 327.88 L27.78 327.86 L28.17 327.84 L28.57 327.82 L28.96 327.8 L29.36 327.79 L29.76 327.77 L30.15 327.75 L30.55 327.73 L30.94 327.71 L31.34 327.69 L31.73 327.67 L32.13 327.65 L32.53 327.62 L32.92 327.6 L33.32 327.58 L33.71 327.55 L34.11 327.52 L34.5 327.5 L34.9 327.47 L35.3 327.44 L35.69 327.42 L36.09 327.39 L36.48 327.36 L36.88 327.33 L37.27 327.3 L37.67 327.27 L38.07 327.24 L38.46 327.21 L38.86 327.18 L39.25 327.14 L39.65 327.11 L40.04 327.06 L40.44 327.02 L40.84 326.97 L41.23 326.92 L41.63 326.86 L42.02 326.8 L42.42 326.73 L42.81 326.66 L43.21 326.59 L43.61 326.51 L44 326.43 L44.4 326.35 L44.79 326.26 L45.19 326.17 L45.58 326.08 L45.98 325.99 L46.38 325.89 L46.77 325.8 L47.17 325.7 L47.56 325.6 L47.96 325.49 L48.35 325.38 L48.75 325.26 L49.15 325.13 L49.54 324.99 L49.94 324.83 L50.33 324.66 L50.73 324.46 L51.12 324.25 L51.52 324.01 L51.92 323.75 L52.31 323.48 L52.71 323.18 L53.1 322.86 L53.5 322.52 L53.89 322.15 L54.29 321.76 L54.69 321.33 L55.08 320.86 L55.48 320.33 L55.87 319.75 L56.27 319.1 L56.66 318.38 L57.06 317.59 L57.46 316.72 L57.85 315.76 L58.25 314.73 L58.64 313.62 L59.04 312.43 L59.43 311.17 L59.83 309.83 L60.23 308.43 L60.62 306.96 L61.02 305.44 L61.41 303.86 L61.81 302.24 L62.2 300.57 L62.6 298.86 L63 297.13 L63.39 295.38 L63.79 293.63 L64.18 291.88 L64.58 290.15 L64.97 288.46 L65.37 286.8 L65.77 285.2 L66.16 283.65 L66.56 282.16 L66.95 280.74 L67.35 279.39 L67.74 278.11 L68.14 276.9 L68.54 275.76 L68.93 274.71 L69.33 273.73 L69.72 272.84 L70.12 272.03 L70.51 271.3 L70.91 270.66 L71.31 270.1 L71.7 269.63 L72.1 269.25 L72.49 268.96 L72.89 268.77 L73.28 268.67 L73.68 268.68 L74.08 268.78 L74.47 268.99 L74.87 269.29 L75.26 269.7 L75.66 270.23 L76.05 270.88 L76.45 271.69 L76.85 272.67 L77.24 273.82 L77.64 275.15 L78.03 276.65 L78.43 278.3 L78.82 280.07 L79.22 281.93 L79.62 283.85 L80.01 285.81 L80.41 287.79 L80.8 289.78 L81.2 291.77 L81.59 293.76 L81.99 295.74 L82.06 296.08 L82.13 296.43 L82.2 296.77 L82.27 297.12 L82.34 297.46 L82.39 297.71 L82.41 297.81 L82.47 298.15 L82.54 298.5 L82.61 298.84 L82.68 299.19 L82.75 299.53 L82.78 299.68 L82.82 299.87 L82.89 300.22 L82.96 300.56 L83.03 300.9 L83.1 301.24 L83.17 301.59 L83.18 301.64 L83.24 301.93 L83.31 302.27 L83.38 302.61 L83.44 302.95 L83.51 303.29 L83.57 303.59 L83.58 303.63 L83.65 303.97 L83.72 304.31 L83.79 304.65 L83.86 304.99 L83.93 305.33 L83.97 305.53 L84 305.67 L84.07 306.01 L84.14 306.35 L84.21 306.69 L84.28 307.03 L84.34 307.36 L84.36 307.46 L84.41 307.7 L84.48 308.03 L84.55 308.36 L84.62 308.69 L84.69 309.01 L84.76 309.33 L84.83 309.65 L84.9 309.97 L84.97 310.29 L85.04 310.6 L85.11 310.92 L85.16 311.14 L85.18 311.23 L85.24 311.53 L85.31 311.84 L85.38 312.14 L85.45 312.45 L85.52 312.75 L85.55 312.87 L85.59 313.05 L85.66 313.34 L85.73 313.64 L85.8 313.93 L85.87 314.23 L85.94 314.52 L85.95 314.56 L86.01 314.81 L86.08 315.1 L86.14 315.39 L86.21 315.67 L86.28 315.96 L86.34 316.2 L86.35 316.24 L86.42 316.52 L86.49 316.8 L86.56 317.08 L86.63 317.36 L86.7 317.63 L86.74 317.79 L86.77 317.91 L86.84 318.17 L86.91 318.43 L86.98 318.69 L87.05 318.94 L87.11 319.18 L87.13 319.25 L87.18 319.42 L87.25 319.65 L87.32 319.87 L87.39 320.09 L87.46 320.31 L87.53 320.51 L87.6 320.71 L87.67 320.9 L87.74 321.08 L87.81 321.26 L87.88 321.43 L87.93 321.54 L87.95 321.58 L88.01 321.72 L88.08 321.83 L88.15 321.89 L88.22 321.9 L88.29 321.85 L88.32 321.8 L88.36 321.72 L88.43 321.51 L88.5 321.25 L88.57 320.96 L88.64 320.61 L88.67 320.46 L88.69 320.29 L88.71 320.21 L88.72 320.15 L88.72 320.12 L88.75 319.94 L88.78 319.75 L88.8 319.55 L88.83 319.33 L88.85 319.22 L88.86 319.1 L88.89 318.86 L88.91 318.61 L88.94 318.34 L88.97 318.05 L88.98 317.9 L89 317.75 L89.03 317.42 L89.05 317.08 L89.08 316.72 L89.11 316.33 L89.11 316.28 L89.12 316.13 L89.14 315.92 L89.16 315.48 L89.19 315.02 L89.22 314.52 L89.25 313.98 L89.26 313.7 L89.28 313.41 L89.3 312.8 L89.33 312.14 L89.36 311.43 L89.39 310.66 L89.4 310.26 L89.41 309.84 L89.44 308.95 L89.47 307.99 L89.5 306.94 L89.51 306.47 L89.52 305.81 L89.54 305.21 L89.55 304.58 L89.58 303.24 L89.61 301.78 L89.64 300.19 L89.66 298.44 L89.68 297.51 L89.69 296.53 L89.72 294.44 L89.75 292.14 L89.77 289.62 L89.8 286.84 L89.82 285.35 L89.83 283.79 L89.86 280.45 L89.88 276.77 L89.9 273.95 L89.91 272.75 L89.94 268.36 L89.95 266.03 L89.97 263.59 L90 258.45 L90.02 252.94 L90.05 247.12 L90.08 241.06 L90.09 237.98 L90.11 234.89 L90.13 228.75 L90.16 222.87 L90.19 217.5 L90.22 212.92 L90.23 211.02 L90.24 209.41 L90.27 207.19 L90.3 206.43 L90.33 207.19 L90.36 209.41 L90.37 211.02 L90.38 212.92 L90.41 217.5 L90.44 222.87 L90.47 228.75 L90.49 234.89 L90.51 237.98 L90.52 241.06 L90.55 247.12 L90.58 252.94 L90.6 258.45 L90.63 263.59 L90.65 266.03 L90.66 268.36 L90.69 272.75 L90.7 273.95 L90.72 276.77 L90.74 280.45 L90.77 283.79 L90.78 285.35 L90.8 286.84 L90.83 289.62 L90.85 292.14 L90.88 294.44 L90.91 296.53 L90.92 297.51 L90.94 298.44 L90.96 300.19 L90.99 301.78 L91.02 303.24 L91.05 304.58 L91.06 305.21 L91.08 305.81 L91.09 306.47 L91.1 306.94 L91.13 307.99 L91.16 308.95 L91.19 309.84 L91.2 310.26 L91.21 310.66 L91.24 311.43 L91.27 312.14 L91.3 312.8 L91.32 313.41 L91.34 313.7 L91.35 313.98 L91.38 314.52 L91.41 315.02 L91.44 315.48 L91.46 315.92 L91.48 316.13 L91.49 316.28 L91.49 316.33 L91.52 316.72 L91.55 317.08 L91.57 317.42 L91.6 317.75 L91.62 317.9 L91.63 318.05 L91.66 318.34 L91.69 318.61 L91.71 318.86 L91.74 319.1 L91.75 319.22 L91.77 319.33 L91.8 319.55 L91.82 319.75 L91.85 319.94 L91.88 320.12 L91.88 320.15 L91.89 320.21 L91.91 320.29 L91.93 320.46 L91.96 320.61 L92.03 320.96 L92.1 321.25 L92.17 321.51 L92.24 321.72 L92.28 321.8 L92.31 321.85 L92.38 321.9 L92.45 321.89 L92.52 321.83 L92.59 321.72 L92.65 321.58 L92.67 321.54 L92.72 321.43 L92.79 321.26 L92.86 321.08 L92.93 320.9 L93 320.71 L93.07 320.51 L93.14 320.31 L93.21 320.09 L93.28 319.87 L93.35 319.65 L93.42 319.42 L93.47 319.25 L93.49 319.18 L93.55 318.94 L93.62 318.69 L93.69 318.43 L93.76 318.17 L93.83 317.91 L93.86 317.79 L93.9 317.63 L93.97 317.36 L94.04 317.08 L94.11 316.8 L94.18 316.52 L94.25 316.24 L94.26 316.2 L94.32 315.96 L94.39 315.67 L94.45 315.39 L94.52 315.1 L94.59 314.81 L94.65 314.56 L94.66 314.52 L94.73 314.23 L94.8 313.93 L94.87 313.64 L94.94 313.34 L95.01 313.05 L95.05 312.87 L95.08 312.75 L95.15 312.45 L95.22 312.14 L95.29 311.84 L95.36 311.53 L95.42 311.23 L95.44 311.14 L95.49 310.92 L95.56 310.6 L95.63 310.29 L95.7 309.97 L95.77 309.65 L95.84 309.33 L95.91 309.01 L95.98 308.69 L96.05 308.36 L96.12 308.03 L96.19 307.7 L96.24 307.46 L96.26 307.36 L96.32 307.03 L96.39 306.69 L96.46 306.35 L96.53 306.01 L96.6 305.67 L96.63 305.53 L96.67 305.33 L96.74 304.99 L96.81 304.65 L96.88 304.31 L96.95 303.97 L97.02 303.63 L97.03 303.59 L97.09 303.29 L97.16 302.95 L97.22 302.61 L97.29 302.27 L97.36 301.93 L97.42 301.64 L97.43 301.59 L97.5 301.24 L97.57 300.9 L97.64 300.56 L97.71 300.22 L97.78 299.87 L97.82 299.68 L97.85 299.53 L97.92 299.19 L97.99 298.84 L98.06 298.5 L98.13 298.15 L98.19 297.81 L98.21 297.71 L98.26 297.46 L98.33 297.12 L98.4 296.77 L98.47 296.43 L98.54 296.08 L98.61 295.74 L99.01 293.76 L99.4 291.77 L99.8 289.78 L100.19 287.79 L100.59 285.81 L100.98 283.85 L101.38 281.93 L101.78 280.07 L102.17 278.3 L102.57 276.65 L102.96 275.15 L103.36 273.82 L103.75 272.67 L104.15 271.69 L104.55 270.88 L104.94 270.23 L105.34 269.7 L105.73 269.29 L106.13 268.99 L106.52 268.78 L106.92 268.68 L107.32 268.67 L107.71 268.77 L108.11 268.96 L108.5 269.25 L108.9 269.63 L109.29 270.1 L109.69 270.66 L110.09 271.3 L110.48 272.03 L110.88 272.84 L111.27 273.73 L111.67 274.71 L112.06 275.76 L112.46 276.9 L112.86 278.11 L113.25 279.39 L113.65 280.74 L114.04 282.16 L114.44 283.65 L114.83 285.2 L115.23 286.8 L115.63 288.46 L116.02 290.15 L116.42 291.88 L116.81 293.63 L117.21 295.38 L117.6 297.13 L118 298.86 L118.4 300.57 L118.79 302.24 L119.19 303.86 L119.58 305.44 L119.98 306.96 L120.37 308.43 L120.77 309.83 L121.17 311.17 L121.56 312.43 L121.96 313.62 L122.35 314.73 L122.75 315.76 L123.14 316.72 L123.54 317.59 L123.94 318.38 L124.33 319.1 L124.73 319.75 L125.12 320.33 L125.52 320.86 L125.91 321.33 L126.31 321.76 L126.71 322.15 L127.1 322.52 L127.5 322.86 L127.89 323.18 L128.29 323.48 L128.68 323.75 L129.08 324.01 L129.48 324.25 L129.87 324.46 L130.27 324.66 L130.66 324.83 L131.06 324.99 L131.45 325.13 L131.85 325.26 L132.25 325.38 L132.64 325.49 L133.04 325.6 L133.43 325.7 L133.83 325.8 L134.22 325.89 L134.62 325.99 L135.02 326.08 L135.41 326.17 L135.81 326.26 L136.2 326.35 L136.6 326.43 L136.99 326.51 L137.39 326.59 L137.79 326.66 L138.18 326.73 L138.58 326.8 L138.97 326.86 L139.37 326.92 L139.76 326.97 L140.16 327.02 L140.56 327.06 L140.95 327.11 L141.35 327.14 L141.74 327.18 L142.14 327.21 L142.53 327.24 L142.93 327.27 L143.33 327.3 L143.72 327.33 L144.12 327.36 L144.51 327.39 L144.91 327.42 L145.3 327.44 L145.7 327.47 L146.1 327.5 L146.49 327.52 L146.89 327.55 L147.28 327.58 L147.68 327.6 L148.07 327.62 L148.47 327.65 L148.87 327.67 L149.26 327.69 L149.66 327.71 L150.05 327.73 L150.45 327.75 L150.84 327.77 L151.24 327.79 L151.64 327.8 L152.03 327.82 L152.43 327.84 L152.82 327.86 L153.22 327.88 L153.61 327.9 L154.01 327.91 L154.41 327.93 L154.8 327.95 L155.2 327.97 L155.59 327.98 L155.99 328 L156.38 328.02 L156.78 328.03 L157.18 328.05 L157.57 328.06 L157.97 328.08 L158.36 328.09 L158.76 328.1 L159.15 328.12 L159.55 328.13" fill="none" stroke="#ff0000" stroke-width="1.4" stroke-linejoin="round" stroke-linecap="butt" clip-path="url(#cC)"/>
<path d="M187.8 5.74 L188.52 5.9 L189.23 6.06 L189.95 6.22 L190.67 6.38 L191.38 6.54 L192.1 6.7 L192.82 6.85 L193.54 7.01 L194.25 7.17 L194.97 7.32 L195.69 7.48 L196.4 7.64 L197.12 7.8 L197.84 7.96 L198.55 8.12 L199.27 8.28 L199.99 8.45 L200.71 8.61 L201.42 8.78 L202.14 8.95 L202.86 9.11 L203.57 9.28 L204.29 9.45 L205.01 9.62 L205.72 9.79 L206.44 9.96 L207.16 10.14 L207.88 10.31 L208.59 10.48 L209.31 10.66 L210.03 10.83 L210.74 11 L211.46 11.18 L212.18 11.36 L212.89 11.53 L213.61 11.71 L214.33 11.89 L215.05 12.07 L215.76 12.25 L216.48 12.43 L217.2 12.61 L217.91 12.79 L218.63 12.97 L219.35 13.15 L220.06 13.34 L220.78 13.52 L221.5 13.71 L222.22 13.89 L222.93 14.08 L223.65 14.27 L224.37 14.46 L225.08 14.65 L225.8 14.84 L226.52 15.03 L227.23 15.22 L227.95 15.41 L228.67 15.6 L229.39 15.8 L230.1 15.99 L230.82 16.18 L231.54 16.38 L232.25 16.57 L232.97 16.77 L233.69 16.96 L234.4 17.16 L235.12 17.35 L235.84 17.55 L236.56 17.74 L237.27 17.93 L237.99 18.13 L238.71 18.32 L239.42 18.51 L240.14 18.7 L240.86 18.89 L241.57 19.07 L242.29 19.26 L243.01 19.46 L243.73 19.66 L244.44 19.86 L245.16 20.08 L245.88 20.3 L246.59 20.54 L247.31 20.78 L248.03 21.03 L248.74 21.28 L249.46 21.55 L250.18 21.81 L250.89 22.09 L251.61 22.37 L252.33 22.65 L253.05 22.94 L253.76 23.23 L254.48 23.53 L255.2 23.83 L255.91 24.13 L256.63 24.43 L257.35 24.74 L258.06 25.05 L258.78 25.37 L259.5 25.69 L260.22 26.02 L260.93 26.35 L261.65 26.69 L262.37 27.03 L263.08 27.39 L263.8 27.75 L264.52 28.11 L265.23 28.49 L265.95 28.87 L266.67 29.27 L267.39 29.67 L268.1 30.09 L268.82 30.53 L269.54 30.98 L270.25 31.44 L270.97 31.91 L271.69 32.38 L272.4 32.87 L273.12 33.35 L273.84 33.85 L274.56 34.37 L275.27 34.89 L275.99 35.43 L276.71 35.99 L277.42 36.56 L278.14 37.16 L278.86 37.77 L279.57 38.4 L280.29 39.02 L281.01 39.64 L281.73 40.25 L282.44 40.88 L283.16 41.5 L283.88 42.11 L284.59 42.7 L285.31 43.26 L286.03 43.81 L286.74 44.34 L287.46 44.86 L288.18 45.37 L288.9 45.86 L289.61 46.35 L290.33 46.83 L291.05 47.3 L291.76 47.77 L292.48 48.22 L293.2 48.66 L293.91 49.09 L294.63 49.51 L295.35 49.91 L296.07 50.3 L296.78 50.68 L297.5 51.05 L298.22 51.41 L298.93 51.77 L299.65 52.12 L300.37 52.46 L301.08 52.8 L301.8 53.13 L302.52 53.45 L303.24 53.77 L303.95 54.08 L304.67 54.39 L305.39 54.7 L306.1 55.01 L306.82 55.31 L307.54 55.61 L308.25 55.9 L308.97 56.19 L309.69 56.48 L310.41 56.76 L311.12 57.03 L311.84 57.31 L312.56 57.57 L313.27 57.83 L313.99 58.08 L314.71 58.33 L315.42 58.57 L316.14 58.8 L316.86 59.02 L317.57 59.23 L318.29 59.43 L319.01 59.63 L319.73 59.82 L320.44 60.01 L321.16 60.2 L321.88 60.38 L322.59 60.57 L323.31 60.76 L324.03 60.96 L324.74 61.15 L325.46 61.35 L326.18 61.54 L326.9 61.73 L327.61 61.93 L328.33 62.12 L329.05 62.32 L329.76 62.51 L330.48 62.71 L331.2 62.9 L331.91 63.1 L332.63 63.29 L333.35 63.48 L334.07 63.67 L334.78 63.87 L335.5 64.06 L336.22 64.25 L336.93 64.44 L337.65 64.63 L338.37 64.82 L339.08 65 L339.8 65.19 L340.52 65.38 L341.24 65.56 L341.95 65.75 L342.67 65.93 L343.39 66.11 L344.1 66.29 L344.82 66.47 L345.54 66.65 L346.25 66.83 L346.97 67.01 L347.69 67.19 L348.41 67.37 L349.12 67.55 L349.84 67.72 L350.56 67.9 L351.27 68.07 L351.99 68.25 L352.71 68.42 L353.42 68.6 L354.14 68.77 L354.86 68.94 L355.58 69.11 L356.29 69.28 L357.01 69.45 L357.73 69.62 L358.44 69.79 L359.16 69.96 L359.88 70.13 L360.59 70.29 L361.31 70.46 L362.03 70.63 L362.75 70.79 L363.46 70.95 L364.18 71.11 L364.9 71.27 L365.61 71.43 L366.33 71.59 L367.05 71.75 L367.76 71.9 L368.48 72.06 L369.2 72.22 L369.92 72.37 L370.63 72.53 L371.35 72.69 L372.07 72.85 L372.78 73.01 L373.5 73.17" fill="none" stroke="#0000ff" stroke-width="1.2" stroke-linejoin="round" stroke-linecap="butt" clip-path="url(#cB)"/>
<path d="M187.8 0.48 L188.52 0.69 L189.23 0.9 L189.95 1.12 L190.67 1.33 L191.38 1.55 L192.1 1.76 L192.82 1.98 L193.54 2.19 L194.25 2.41 L194.97 2.63 L195.69 2.84 L196.4 3.06 L197.12 3.28 L197.84 3.49 L198.55 3.71 L199.27 3.93 L199.99 4.15 L200.71 4.36 L201.42 4.58 L202.14 4.8 L202.86 5.02 L203.57 5.24 L204.29 5.46 L205.01 5.68 L205.72 5.9 L206.44 6.12 L207.16 6.34 L207.88 6.57 L208.59 6.79 L209.31 7.01 L210.03 7.24 L210.74 7.47 L211.46 7.69 L212.18 7.92 L212.89 8.15 L213.61 8.38 L214.33 8.6 L215.05 8.83 L215.76 9.06 L216.48 9.29 L217.2 9.53 L217.91 9.76 L218.63 9.99 L219.35 10.23 L220.06 10.46 L220.78 10.7 L221.5 10.94 L222.22 11.18 L222.93 11.42 L223.65 11.67 L224.37 11.91 L225.08 12.16 L225.8 12.41 L226.52 12.66 L227.23 12.91 L227.95 13.17 L228.67 13.42 L229.39 13.67 L230.1 13.93 L230.82 14.19 L231.54 14.45 L232.25 14.71 L232.97 14.97 L233.69 15.23 L234.4 15.49 L235.12 15.76 L235.84 16.02 L236.56 16.29 L237.27 16.56 L237.99 16.82 L238.71 17.09 L239.42 17.36 L240.14 17.63 L240.86 17.9 L241.57 18.17 L242.29 18.44 L243.01 18.71 L243.73 18.97 L244.44 19.24 L245.16 19.5 L245.88 19.77 L246.59 20.03 L247.31 20.3 L248.03 20.57 L248.74 20.85 L249.46 21.12 L250.18 21.4 L250.89 21.69 L251.61 21.98 L252.33 22.27 L253.05 22.58 L253.76 22.89 L254.48 23.2 L255.2 23.53 L255.91 23.86 L256.63 24.2 L257.35 24.57 L258.06 24.95 L258.78 25.34 L259.5 25.74 L260.22 26.15 L260.93 26.57 L261.65 27 L262.37 27.43 L263.08 27.86 L263.8 28.29 L264.52 28.72 L265.23 29.14 L265.95 29.56 L266.67 29.97 L267.39 30.37 L268.1 30.76 L268.82 31.15 L269.54 31.54 L270.25 31.94 L270.97 32.34 L271.69 32.76 L272.4 33.19 L273.12 33.63 L273.84 34.09 L274.56 34.57 L275.27 35.06 L275.99 35.57 L276.71 36.09 L277.42 36.64 L278.14 37.22 L278.86 37.81 L279.57 38.42 L280.29 39.03 L281.01 39.63 L281.73 40.25 L282.44 40.87 L283.16 41.49 L283.88 42.11 L284.59 42.7 L285.31 43.26 L286.03 43.81 L286.74 44.34 L287.46 44.86 L288.18 45.37 L288.9 45.86 L289.61 46.35 L290.33 46.83 L291.05 47.3 L291.76 47.77 L292.48 48.22 L293.2 48.66 L293.91 49.09 L294.63 49.51 L295.35 49.91 L296.07 50.3 L296.78 50.68 L297.5 51.05 L298.22 51.41 L298.93 51.77 L299.65 52.11 L300.37 52.45 L301.08 52.79 L301.8 53.12 L302.52 53.45 L303.24 53.77 L303.95 54.08 L304.67 54.4 L305.39 54.7 L306.1 55.01 L306.82 55.31 L307.54 55.61 L308.25 55.9 L308.97 56.19 L309.69 56.48 L310.41 56.76 L311.12 57.04 L311.84 57.31 L312.56 57.58 L313.27 57.85 L313.99 58.12 L314.71 58.38 L315.42 58.64 L316.14 58.9 L316.86 59.15 L317.57 59.39 L318.29 59.63 L319.01 59.86 L319.73 60.09 L320.44 60.32 L321.16 60.55 L321.88 60.78 L322.59 61.02 L323.31 61.25 L324.03 61.5 L324.74 61.74 L325.46 61.98 L326.18 62.23 L326.9 62.47 L327.61 62.72 L328.33 62.97 L329.05 63.21 L329.76 63.46 L330.48 63.71 L331.2 63.96 L331.91 64.21 L332.63 64.46 L333.35 64.72 L334.07 64.97 L334.78 65.22 L335.5 65.47 L336.22 65.72 L336.93 65.98 L337.65 66.23 L338.37 66.48 L339.08 66.74 L339.8 66.99 L340.52 67.24 L341.24 67.5 L341.95 67.75 L342.67 68 L343.39 68.25 L344.1 68.51 L344.82 68.76 L345.54 69.01 L346.25 69.26 L346.97 69.51 L347.69 69.77 L348.41 70.02 L349.12 70.27 L349.84 70.52 L350.56 70.77 L351.27 71.03 L351.99 71.28 L352.71 71.53 L353.42 71.79 L354.14 72.04 L354.86 72.3 L355.58 72.55 L356.29 72.81 L357.01 73.06 L357.73 73.32 L358.44 73.58 L359.16 73.84 L359.88 74.1 L360.59 74.36 L361.31 74.62 L362.03 74.88 L362.75 75.15 L363.46 75.41 L364.18 75.67 L364.9 75.94 L365.61 76.21 L366.33 76.47 L367.05 76.74 L367.76 77.01 L368.48 77.28 L369.2 77.55 L369.92 77.83 L370.63 78.1 L371.35 78.37 L372.07 78.64 L372.78 78.92 L373.5 79.19" fill="none" stroke="#ff0000" stroke-width="1.2" stroke-linejoin="round" stroke-linecap="butt" clip-path="url(#cB)"/>
<path d="M187.8 187.19 L188.52 187.35 L189.23 187.52 L189.95 187.68 L190.67 187.85 L191.38 188.01 L192.1 188.17 L192.82 188.34 L193.54 188.51 L194.25 188.67 L194.97 188.84 L195.69 189 L196.4 189.17 L197.12 189.33 L197.84 189.5 L198.55 189.67 L199.27 189.83 L199.99 190 L200.71 190.16 L201.42 190.33 L202.14 190.5 L202.86 190.66 L203.57 190.83 L204.29 191 L205.01 191.17 L205.72 191.33 L206.44 191.5 L207.16 191.67 L207.88 191.84 L208.59 192.01 L209.31 192.17 L210.03 192.34 L210.74 192.51 L211.46 192.68 L212.18 192.84 L212.89 193.01 L213.61 193.18 L214.33 193.35 L215.05 193.51 L215.76 193.68 L216.48 193.85 L217.2 194.01 L217.91 194.18 L218.63 194.35 L219.35 194.51 L220.06 194.68 L220.78 194.84 L221.5 195 L222.22 195.17 L222.93 195.33 L223.65 195.5 L224.37 195.66 L225.08 195.82 L225.8 195.98 L226.52 196.13 L227.23 196.29 L227.95 196.45 L228.67 196.61 L229.39 196.76 L230.1 196.92 L230.82 197.07 L231.54 197.23 L232.25 197.39 L232.97 197.55 L233.69 197.7 L234.4 197.86 L235.12 198.03 L235.84 198.19 L236.56 198.35 L237.27 198.52 L237.99 198.69 L238.71 198.86 L239.42 199.03 L240.14 199.2 L240.86 199.37 L241.57 199.54 L242.29 199.72 L243.01 199.89 L243.73 200.07 L244.44 200.24 L245.16 200.42 L245.88 200.61 L246.59 200.79 L247.31 200.98 L248.03 201.17 L248.74 201.36 L249.46 201.56 L250.18 201.76 L250.89 201.96 L251.61 202.17 L252.33 202.39 L253.05 202.61 L253.76 202.83 L254.48 203.06 L255.2 203.3 L255.91 203.54 L256.63 203.79 L257.35 204.04 L258.06 204.3 L258.78 204.57 L259.5 204.84 L260.22 205.13 L260.93 205.42 L261.65 205.72 L262.37 206.02 L263.08 206.33 L263.8 206.65 L264.52 206.99 L265.23 207.33 L265.95 207.68 L266.67 208.04 L267.39 208.4 L268.1 208.77 L268.82 209.13 L269.54 209.49 L270.25 209.84 L270.97 210.19 L271.69 210.57 L272.4 210.97 L273.12 211.43 L273.84 211.94 L274.56 212.51 L275.27 213.12 L275.99 213.76 L276.71 214.42 L277.42 215.1 L278.14 215.83 L278.86 216.6 L279.57 217.38 L280.29 218.16 L281.01 218.92 L281.73 219.68 L282.44 220.46 L283.16 221.23 L283.88 221.98 L284.59 222.7 L285.31 223.39 L286.03 224.08 L286.74 224.74 L287.46 225.38 L288.18 225.96 L288.9 226.48 L289.61 226.94 L290.33 227.35 L291.05 227.74 L291.76 228.1 L292.48 228.46 L293.2 228.83 L293.91 229.19 L294.63 229.55 L295.35 229.9 L296.07 230.24 L296.78 230.57 L297.5 230.89 L298.22 231.19 L298.93 231.49 L299.65 231.77 L300.37 232.04 L301.08 232.31 L301.8 232.57 L302.52 232.82 L303.24 233.07 L303.95 233.32 L304.67 233.56 L305.39 233.81 L306.1 234.05 L306.82 234.29 L307.54 234.52 L308.25 234.75 L308.97 234.98 L309.69 235.2 L310.41 235.42 L311.12 235.63 L311.84 235.84 L312.56 236.05 L313.27 236.25 L313.99 236.46 L314.71 236.65 L315.42 236.85 L316.14 237.05 L316.86 237.24 L317.57 237.43 L318.29 237.62 L319.01 237.81 L319.73 238 L320.44 238.18 L321.16 238.37 L321.88 238.55 L322.59 238.73 L323.31 238.91 L324.03 239.1 L324.74 239.28 L325.46 239.45 L326.18 239.63 L326.9 239.8 L327.61 239.98 L328.33 240.15 L329.05 240.32 L329.76 240.5 L330.48 240.67 L331.2 240.83 L331.91 241 L332.63 241.17 L333.35 241.34 L334.07 241.5 L334.78 241.67 L335.5 241.84 L336.22 242 L336.93 242.17 L337.65 242.33 L338.37 242.5 L339.08 242.66 L339.8 242.82 L340.52 242.99 L341.24 243.15 L341.95 243.32 L342.67 243.49 L343.39 243.65 L344.1 243.82 L344.82 243.98 L345.54 244.14 L346.25 244.31 L346.97 244.47 L347.69 244.63 L348.41 244.79 L349.12 244.95 L349.84 245.11 L350.56 245.27 L351.27 245.43 L351.99 245.59 L352.71 245.75 L353.42 245.91 L354.14 246.07 L354.86 246.24 L355.58 246.4 L356.29 246.56 L357.01 246.72 L357.73 246.88 L358.44 247.05 L359.16 247.21 L359.88 247.38 L360.59 247.54 L361.31 247.71 L362.03 247.87 L362.75 248.04 L363.46 248.21 L364.18 248.39 L364.9 248.56 L365.61 248.74 L366.33 248.91 L367.05 249.09 L367.76 249.26 L368.48 249.44 L369.2 249.61 L369.92 249.79 L370.63 249.96 L371.35 250.13 L372.07 250.29 L372.78 250.46 L373.5 250.62" fill="none" stroke="#0000ff" stroke-width="1.2" stroke-linejoin="round" stroke-linecap="butt" clip-path="url(#cD)"/>
<path d="M187.8 177.51 L188.52 177.79 L189.23 178.06 L189.95 178.34 L190.67 178.61 L191.38 178.89 L192.1 179.16 L192.82 179.44 L193.54 179.71 L194.25 179.98 L194.97 180.25 L195.69 180.52 L196.4 180.79 L197.12 181.06 L197.84 181.33 L198.55 181.6 L199.27 181.86 L199.99 182.13 L200.71 182.39 L201.42 182.65 L202.14 182.92 L202.86 183.17 L203.57 183.43 L204.29 183.69 L205.01 183.94 L205.72 184.19 L206.44 184.44 L207.16 184.69 L207.88 184.94 L208.59 185.19 L209.31 185.44 L210.03 185.68 L210.74 185.93 L211.46 186.18 L212.18 186.42 L212.89 186.67 L213.61 186.92 L214.33 187.17 L215.05 187.42 L215.76 187.67 L216.48 187.92 L217.2 188.17 L217.91 188.42 L218.63 188.68 L219.35 188.93 L220.06 189.19 L220.78 189.46 L221.5 189.72 L222.22 189.99 L222.93 190.25 L223.65 190.53 L224.37 190.8 L225.08 191.08 L225.8 191.36 L226.52 191.65 L227.23 191.94 L227.95 192.23 L228.67 192.52 L229.39 192.81 L230.1 193.11 L230.82 193.41 L231.54 193.7 L232.25 194 L232.97 194.3 L233.69 194.59 L234.4 194.89 L235.12 195.19 L235.84 195.48 L236.56 195.77 L237.27 196.06 L237.99 196.35 L238.71 196.63 L239.42 196.91 L240.14 197.19 L240.86 197.47 L241.57 197.75 L242.29 198.03 L243.01 198.31 L243.73 198.59 L244.44 198.86 L245.16 199.14 L245.88 199.42 L246.59 199.69 L247.31 199.97 L248.03 200.25 L248.74 200.53 L249.46 200.81 L250.18 201.09 L250.89 201.37 L251.61 201.65 L252.33 201.93 L253.05 202.21 L253.76 202.49 L254.48 202.78 L255.2 203.06 L255.91 203.35 L256.63 203.64 L257.35 203.93 L258.06 204.22 L258.78 204.51 L259.5 204.81 L260.22 205.1 L260.93 205.4 L261.65 205.7 L262.37 206.01 L263.08 206.33 L263.8 206.66 L264.52 206.99 L265.23 207.34 L265.95 207.69 L266.67 208.05 L267.39 208.41 L268.1 208.77 L268.82 209.13 L269.54 209.49 L270.25 209.84 L270.97 210.19 L271.69 210.57 L272.4 210.97 L273.12 211.43 L273.84 211.94 L274.56 212.51 L275.27 213.12 L275.99 213.76 L276.71 214.42 L277.42 215.1 L278.14 215.83 L278.86 216.6 L279.57 217.38 L280.29 218.16 L281.01 218.92 L281.73 219.68 L282.44 220.46 L283.16 221.23 L283.88 221.98 L284.59 222.7 L285.31 223.39 L286.03 224.08 L286.74 224.74 L287.46 225.38 L288.18 225.96 L288.9 226.48 L289.61 226.94 L290.33 227.35 L291.05 227.74 L291.76 228.1 L292.48 228.46 L293.2 228.83 L293.91 229.19 L294.63 229.55 L295.35 229.9 L296.07 230.24 L296.78 230.57 L297.5 230.89 L298.22 231.19 L298.93 231.49 L299.65 231.77 L300.37 232.04 L301.08 232.3 L301.8 232.55 L302.52 232.81 L303.24 233.06 L303.95 233.31 L304.67 233.57 L305.39 233.83 L306.1 234.08 L306.82 234.33 L307.54 234.59 L308.25 234.84 L308.97 235.09 L309.69 235.34 L310.41 235.59 L311.12 235.85 L311.84 236.1 L312.56 236.35 L313.27 236.61 L313.99 236.86 L314.71 237.11 L315.42 237.36 L316.14 237.61 L316.86 237.87 L317.57 238.12 L318.29 238.38 L319.01 238.63 L319.73 238.89 L320.44 239.15 L321.16 239.41 L321.88 239.67 L322.59 239.93 L323.31 240.2 L324.03 240.47 L324.74 240.74 L325.46 241.01 L326.18 241.28 L326.9 241.56 L327.61 241.84 L328.33 242.12 L329.05 242.4 L329.76 242.68 L330.48 242.96 L331.2 243.24 L331.91 243.53 L332.63 243.82 L333.35 244.1 L334.07 244.39 L334.78 244.68 L335.5 244.96 L336.22 245.25 L336.93 245.54 L337.65 245.83 L338.37 246.12 L339.08 246.4 L339.8 246.69 L340.52 246.98 L341.24 247.27 L341.95 247.55 L342.67 247.84 L343.39 248.12 L344.1 248.41 L344.82 248.69 L345.54 248.98 L346.25 249.26 L346.97 249.54 L347.69 249.83 L348.41 250.11 L349.12 250.39 L349.84 250.68 L350.56 250.96 L351.27 251.24 L351.99 251.53 L352.71 251.81 L353.42 252.1 L354.14 252.39 L354.86 252.67 L355.58 252.96 L356.29 253.25 L357.01 253.54 L357.73 253.83 L358.44 254.12 L359.16 254.42 L359.88 254.71 L360.59 255.01 L361.31 255.31 L362.03 255.61 L362.75 255.91 L363.46 256.21 L364.18 256.51 L364.9 256.81 L365.61 257.11 L366.33 257.42 L367.05 257.72 L367.76 258.03 L368.48 258.34 L369.2 258.65 L369.92 258.96 L370.63 259.27 L371.35 259.58 L372.07 259.89 L372.78 260.2 L373.5 260.52" fill="none" stroke="#ff0000" stroke-width="1.2" stroke-linejoin="round" stroke-linecap="butt" clip-path="url(#cD)"/>
<path d="M188.8 118.7 L189.24 118.74 L189.68 118.78 L190.12 118.83 L190.55 118.87 L190.99 118.91 L191.43 118.96 L191.87 119 L192.31 119.04 L192.75 119.09 L193.18 119.13 L193.62 119.18 L194.06 119.22 L194.5 119.27 L194.94 119.31 L195.38 119.36 L195.81 119.41 L196.25 119.46 L196.69 119.5 L197.13 119.55 L197.57 119.6 L198.01 119.65 L198.45 119.7 L198.88 119.75 L199.32 119.8 L199.76 119.85 L200.2 119.91 L200.64 119.96 L201.08 120.01 L201.51 120.06 L201.95 120.12 L202.39 120.18 L202.83 120.23 L203.27 120.29 L203.71 120.35 L204.14 120.41 L204.58 120.48 L205.02 120.54 L205.46 120.61 L205.9 120.67 L206.34 120.74 L206.78 120.8 L207.21 120.87 L207.65 120.94 L208.09 121.01 L208.53 121.08 L208.97 121.14 L209.41 121.21 L209.84 121.28 L210.28 121.35 L210.72 121.42 L211.16 121.49 L211.6 121.56 L212.04 121.63 L212.47 121.7 L212.91 121.77 L213.35 121.84 L213.79 121.91 L214.23 121.99 L214.67 122.06 L215.11 122.14 L215.54 122.21 L215.98 122.29 L216.42 122.37 L216.86 122.45 L217.3 122.53 L217.74 122.61 L218.17 122.69 L218.61 122.77 L219.05 122.85 L219.49 122.93 L219.93 123.02 L220.37 123.1 L220.81 123.19 L221.24 123.27 L221.68 123.36 L222.12 123.45 L222.56 123.54 L223 123.64 L223.44 123.74 L223.87 123.85 L224.31 123.95 L224.75 124.06 L225.19 124.18 L225.63 124.29 L226.07 124.41 L226.5 124.53 L226.94 124.66 L227.38 124.78 L227.82 124.91 L228.26 125.04 L228.7 125.17 L229.14 125.31 L229.57 125.45 L230.01 125.59 L230.45 125.73 L230.89 125.87 L231.33 126.01 L231.77 126.16 L232.2 126.31 L232.64 126.47 L233.08 126.64 L233.52 126.81 L233.96 126.98 L234.4 127.16 L234.83 127.34 L235.27 127.52 L235.71 127.71 L236.15 127.9 L236.59 128.09 L237.03 128.28 L237.47 128.47 L237.9 128.67 L238.34 128.87 L238.78 129.08 L239.22 129.29 L239.66 129.51 L240.1 129.73 L240.53 129.97 L240.97 130.22 L241.41 130.47 L241.85 130.74 L242.29 131.01 L242.73 131.29 L243.16 131.58 L243.6 131.87 L244.04 132.17 L244.48 132.48 L244.92 132.78 L245.36 133.09 L245.8 133.41 L246.23 133.73 L246.67 134.04 L247.11 134.36 L247.55 134.69 L247.99 135.01 L248.43 135.33 L248.86 135.66 L249.3 135.99 L249.74 136.32 L250.18 136.65 L250.62 136.99 L251.06 137.33 L251.49 137.67 L251.93 138.01 L252.37 138.37 L252.81 138.73 L253.25 139.11 L253.69 139.48 L254.13 139.86 L254.56 140.24 L255 140.61 L255.44 140.99 L255.88 141.36 L256.32 141.72 L256.76 142.08 L257.19 142.43 L257.63 142.78 L258.07 143.12 L258.51 143.46 L258.95 143.78 L259.39 144.09 L259.82 144.39 L260.26 144.67 L260.7 144.94 L261.14 145.18 L261.58 145.4 L262.02 145.6 L262.46 145.76 L262.89 145.91 L263.33 146.04 L263.77 146.17 L264.21 146.29 L264.65 146.41 L265.09 146.52 L265.52 146.61 L265.96 146.67 L266.4 146.7 L266.84 146.71 L267.28 146.7 L267.72 146.63 L268.15 146.52 L268.59 146.36 L269.03 146.16 L269.47 145.9 L269.91 145.6 L270.35 145.26 L270.79 144.88 L271.22 144.46 L271.66 144 L272.1 143.51 L272.54 143.01 L272.98 142.47 L273.42 141.89 L273.85 141.29 L274.29 140.66 L274.73 139.93 L275.17 139.1 L275.61 138.12 L276.05 136.9 L276.48 135.53 L276.92 134.14 L277.36 132.66 L277.8 130.9 L278.24 128.74 L278.68 126.31 L279.12 123.67 L279.55 120.91 L279.99 118.13 L280.43 115.36 L280.87 112.58 L281.31 109.8 L281.75 107.02 L282.18 104.25 L282.62 101.49 L283.06 98.87 L283.5 96.46 L283.94 94.33 L284.38 92.61 L284.82 91.14 L285.25 89.75 L285.69 88.39 L286.13 87.18 L286.57 86.23 L287.01 85.4 L287.45 84.68 L287.88 84.06 L288.32 83.45 L288.76 82.88 L289.2 82.35 L289.64 81.84 L290.08 81.36 L290.51 80.9 L290.95 80.49 L291.39 80.11 L291.83 79.77 L292.27 79.47 L292.71 79.22 L293.15 79.02 L293.58 78.87 L294.02 78.76 L294.46 78.7 L294.9 78.69 L295.34 78.7 L295.78 78.73 L296.21 78.79 L296.65 78.89 L297.09 79 L297.53 79.12 L297.97 79.24 L298.41 79.37 L298.84 79.5 L299.28 79.65 L299.72 79.82 L300.16 80.02 L300.6 80.24 L301.04 80.49 L301.48 80.75 L301.91 81.03 L302.35 81.33 L302.79 81.65 L303.23 81.97 L303.67 82.31 L304.11 82.65 L304.54 83 L304.98 83.35 L305.42 83.71 L305.86 84.07 L306.3 84.44 L306.74 84.82 L307.17 85.2 L307.61 85.57 L308.05 85.95 L308.49 86.33 L308.93 86.7 L309.37 87.06 L309.81 87.42 L310.24 87.76 L310.68 88.1 L311.12 88.44 L311.56 88.78 L312 89.11 L312.44 89.44 L312.87 89.77 L313.31 90.09 L313.75 90.42 L314.19 90.74 L314.63 91.06 L315.07 91.38 L315.5 91.7 L315.94 92.02 L316.38 92.33 L316.82 92.64 L317.26 92.95 L317.7 93.25 L318.14 93.55 L318.57 93.85 L319.01 94.13 L319.45 94.41 L319.89 94.69 L320.33 94.95 L320.77 95.21 L321.2 95.45 L321.64 95.69 L322.08 95.91 L322.52 96.13 L322.96 96.34 L323.4 96.55 L323.83 96.75 L324.27 96.94 L324.71 97.14 L325.15 97.33 L325.59 97.52 L326.03 97.71 L326.47 97.89 L326.9 98.08 L327.34 98.26 L327.78 98.43 L328.22 98.61 L328.66 98.78 L329.1 98.94 L329.53 99.1 L329.97 99.25 L330.41 99.4 L330.85 99.54 L331.29 99.69 L331.73 99.83 L332.16 99.97 L332.6 100.1 L333.04 100.24 L333.48 100.37 L333.92 100.5 L334.36 100.63 L334.8 100.76 L335.23 100.88 L335.67 101 L336.11 101.12 L336.55 101.23 L336.99 101.35 L337.43 101.46 L337.86 101.56 L338.3 101.67 L338.74 101.77 L339.18 101.86 L339.62 101.96 L340.06 102.05 L340.49 102.13 L340.93 102.22 L341.37 102.31 L341.81 102.39 L342.25 102.47 L342.69 102.56 L343.13 102.64 L343.56 102.72 L344 102.8 L344.44 102.88 L344.88 102.96 L345.32 103.04 L345.76 103.12 L346.19 103.19 L346.63 103.27 L347.07 103.35 L347.51 103.42 L347.95 103.49 L348.39 103.57 L348.83 103.64 L349.26 103.71 L349.7 103.78 L350.14 103.85 L350.58 103.92 L351.02 103.99 L351.46 104.06 L351.89 104.12 L352.33 104.19 L352.77 104.26 L353.21 104.33 L353.65 104.4 L354.09 104.47 L354.52 104.54 L354.96 104.6 L355.4 104.67 L355.84 104.74 L356.28 104.8 L356.72 104.86 L357.16 104.93 L357.59 104.99 L358.03 105.05 L358.47 105.11 L358.91 105.17 L359.35 105.23 L359.79 105.29 L360.22 105.34 L360.66 105.39 L361.1 105.45 L361.54 105.5 L361.98 105.55 L362.42 105.6 L362.85 105.65 L363.29 105.7 L363.73 105.75 L364.17 105.8 L364.61 105.85 L365.05 105.9 L365.49 105.95 L365.92 106 L366.36 106.04 L366.8 106.09 L367.24 106.14 L367.68 106.18 L368.12 106.23 L368.55 106.27 L368.99 106.32 L369.43 106.36 L369.87 106.4 L370.31 106.45 L370.75 106.49 L371.18 106.53 L371.62 106.58 L372.06 106.62 L372.5 106.66" fill="none" stroke="#0000ff" stroke-width="1.35" stroke-linejoin="round" stroke-linecap="butt" clip-path="url(#cB2)"/>
<path d="M188.8 118.26 L189.24 118.3 L189.68 118.34 L190.12 118.39 L190.55 118.43 L190.99 118.47 L191.43 118.52 L191.87 118.56 L192.31 118.6 L192.75 118.65 L193.18 118.69 L193.62 118.74 L194.06 118.79 L194.5 118.83 L194.94 118.88 L195.38 118.92 L195.81 118.97 L196.25 119.02 L196.69 119.07 L197.13 119.12 L197.57 119.17 L198.01 119.22 L198.45 119.27 L198.88 119.32 L199.32 119.37 L199.76 119.42 L200.2 119.47 L200.64 119.53 L201.08 119.58 L201.51 119.63 L201.95 119.69 L202.39 119.75 L202.83 119.8 L203.27 119.86 L203.71 119.92 L204.14 119.99 L204.58 120.05 L205.02 120.11 L205.46 120.18 L205.9 120.24 L206.34 120.31 L206.78 120.38 L207.21 120.45 L207.65 120.52 L208.09 120.58 L208.53 120.65 L208.97 120.72 L209.41 120.79 L209.84 120.86 L210.28 120.93 L210.72 121 L211.16 121.07 L211.6 121.14 L212.04 121.21 L212.47 121.28 L212.91 121.35 L213.35 121.43 L213.79 121.5 L214.23 121.57 L214.67 121.65 L215.11 121.73 L215.54 121.8 L215.98 121.88 L216.42 121.96 L216.86 122.04 L217.3 122.12 L217.74 122.2 L218.17 122.28 L218.61 122.37 L219.05 122.45 L219.49 122.53 L219.93 122.62 L220.37 122.71 L220.81 122.79 L221.24 122.88 L221.68 122.97 L222.12 123.06 L222.56 123.15 L223 123.25 L223.44 123.36 L223.87 123.46 L224.31 123.57 L224.75 123.68 L225.19 123.8 L225.63 123.91 L226.07 124.03 L226.5 124.16 L226.94 124.28 L227.38 124.41 L227.82 124.54 L228.26 124.67 L228.7 124.81 L229.14 124.94 L229.57 125.08 L230.01 125.22 L230.45 125.37 L230.89 125.51 L231.33 125.66 L231.77 125.81 L232.2 125.96 L232.64 126.13 L233.08 126.29 L233.52 126.46 L233.96 126.64 L234.4 126.82 L234.83 127 L235.27 127.19 L235.71 127.38 L236.15 127.57 L236.59 127.76 L237.03 127.95 L237.47 128.15 L237.9 128.35 L238.34 128.55 L238.78 128.76 L239.22 128.98 L239.66 129.2 L240.1 129.43 L240.53 129.67 L240.97 129.92 L241.41 130.18 L241.85 130.45 L242.29 130.72 L242.73 131.01 L243.16 131.3 L243.6 131.59 L244.04 131.9 L244.48 132.2 L244.92 132.51 L245.36 132.83 L245.8 133.15 L246.23 133.47 L246.67 133.79 L247.11 134.11 L247.55 134.44 L247.99 134.77 L248.43 135.09 L248.86 135.43 L249.3 135.76 L249.74 136.09 L250.18 136.43 L250.62 136.77 L251.06 137.11 L251.49 137.46 L251.93 137.81 L252.37 138.17 L252.81 138.54 L253.25 138.91 L253.69 139.29 L254.13 139.67 L254.56 140.05 L255 140.44 L255.44 140.82 L255.88 141.19 L256.32 141.56 L256.76 141.92 L257.19 142.28 L257.63 142.63 L258.07 142.98 L258.51 143.31 L258.95 143.64 L259.39 143.96 L259.82 144.26 L260.26 144.55 L260.7 144.82 L261.14 145.06 L261.58 145.29 L262.02 145.49 L262.46 145.66 L262.89 145.81 L263.33 145.95 L263.77 146.08 L264.21 146.2 L264.65 146.33 L265.09 146.44 L265.52 146.54 L265.96 146.6 L266.4 146.64 L266.84 146.65 L267.28 146.64 L267.72 146.57 L268.15 146.46 L268.59 146.31 L269.03 146.11 L269.47 145.86 L269.91 145.56 L270.35 145.22 L270.79 144.84 L271.22 144.43 L271.66 143.97 L272.1 143.49 L272.54 142.98 L272.98 142.45 L273.42 141.87 L273.85 141.27 L274.29 140.64 L274.73 139.92 L275.17 139.08 L275.61 138.11 L276.05 136.89 L276.48 135.52 L276.92 134.13 L277.36 132.65 L277.8 130.9 L278.24 128.74 L278.68 126.3 L279.12 123.67 L279.55 120.91 L279.99 118.13 L280.43 115.36 L280.87 112.58 L281.31 109.8 L281.75 107.02 L282.18 104.25 L282.62 101.49 L283.06 98.87 L283.5 96.46 L283.94 94.33 L284.38 92.61 L284.82 91.14 L285.25 89.75 L285.69 88.39 L286.13 87.19 L286.57 86.24 L287.01 85.41 L287.45 84.7 L287.88 84.07 L288.32 83.47 L288.76 82.9 L289.2 82.37 L289.64 81.87 L290.08 81.39 L290.51 80.94 L290.95 80.52 L291.39 80.15 L291.83 79.81 L292.27 79.52 L292.71 79.27 L293.15 79.08 L293.58 78.93 L294.02 78.82 L294.46 78.76 L294.9 78.75 L295.34 78.77 L295.78 78.8 L296.21 78.87 L296.65 78.97 L297.09 79.08 L297.53 79.21 L297.97 79.33 L298.41 79.47 L298.84 79.6 L299.28 79.75 L299.72 79.93 L300.16 80.13 L300.6 80.36 L301.04 80.61 L301.48 80.88 L301.91 81.16 L302.35 81.47 L302.79 81.79 L303.23 82.12 L303.67 82.45 L304.11 82.8 L304.54 83.16 L304.98 83.51 L305.42 83.87 L305.86 84.24 L306.3 84.62 L306.74 85 L307.17 85.38 L307.61 85.76 L308.05 86.14 L308.49 86.52 L308.93 86.9 L309.37 87.26 L309.81 87.62 L310.24 87.97 L310.68 88.32 L311.12 88.66 L311.56 89 L312 89.34 L312.44 89.67 L312.87 90 L313.31 90.33 L313.75 90.66 L314.19 90.99 L314.63 91.31 L315.07 91.64 L315.5 91.96 L315.94 92.28 L316.38 92.6 L316.82 92.91 L317.26 93.22 L317.7 93.53 L318.14 93.83 L318.57 94.13 L319.01 94.42 L319.45 94.7 L319.89 94.98 L320.33 95.25 L320.77 95.51 L321.2 95.75 L321.64 95.99 L322.08 96.22 L322.52 96.44 L322.96 96.66 L323.4 96.86 L323.83 97.07 L324.27 97.27 L324.71 97.46 L325.15 97.66 L325.59 97.85 L326.03 98.04 L326.47 98.23 L326.9 98.41 L327.34 98.6 L327.78 98.78 L328.22 98.95 L328.66 99.12 L329.1 99.29 L329.53 99.45 L329.97 99.61 L330.41 99.75 L330.85 99.9 L331.29 100.05 L331.73 100.19 L332.16 100.33 L332.6 100.47 L333.04 100.61 L333.48 100.74 L333.92 100.87 L334.36 101 L334.8 101.13 L335.23 101.26 L335.67 101.38 L336.11 101.5 L336.55 101.61 L336.99 101.73 L337.43 101.84 L337.86 101.95 L338.3 102.05 L338.74 102.16 L339.18 102.25 L339.62 102.35 L340.06 102.44 L340.49 102.53 L340.93 102.62 L341.37 102.7 L341.81 102.79 L342.25 102.87 L342.69 102.96 L343.13 103.04 L343.56 103.12 L344 103.21 L344.44 103.29 L344.88 103.37 L345.32 103.45 L345.76 103.53 L346.19 103.6 L346.63 103.68 L347.07 103.76 L347.51 103.83 L347.95 103.91 L348.39 103.98 L348.83 104.05 L349.26 104.13 L349.7 104.2 L350.14 104.27 L350.58 104.34 L351.02 104.41 L351.46 104.47 L351.89 104.54 L352.33 104.61 L352.77 104.68 L353.21 104.75 L353.65 104.82 L354.09 104.89 L354.52 104.96 L354.96 105.03 L355.4 105.09 L355.84 105.16 L356.28 105.23 L356.72 105.29 L357.16 105.36 L357.59 105.42 L358.03 105.48 L358.47 105.54 L358.91 105.6 L359.35 105.66 L359.79 105.72 L360.22 105.77 L360.66 105.83 L361.1 105.88 L361.54 105.93 L361.98 105.98 L362.42 106.04 L362.85 106.09 L363.29 106.14 L363.73 106.19 L364.17 106.24 L364.61 106.29 L365.05 106.34 L365.49 106.38 L365.92 106.43 L366.36 106.48 L366.8 106.53 L367.24 106.57 L367.68 106.62 L368.12 106.66 L368.55 106.71 L368.99 106.75 L369.43 106.8 L369.87 106.84 L370.31 106.89 L370.75 106.93 L371.18 106.97 L371.62 107.02 L372.06 107.06 L372.5 107.1" fill="none" stroke="#ff0000" stroke-width="1.35" stroke-linejoin="round" stroke-linecap="butt" clip-path="url(#cB2)"/>
<path d="M188.8 295.36 L189.24 295.38 L189.68 295.41 L190.12 295.43 L190.55 295.46 L190.99 295.48 L191.43 295.51 L191.87 295.53 L192.31 295.56 L192.75 295.59 L193.18 295.61 L193.62 295.64 L194.06 295.67 L194.5 295.69 L194.94 295.72 L195.38 295.75 L195.81 295.78 L196.25 295.8 L196.69 295.83 L197.13 295.86 L197.57 295.89 L198.01 295.92 L198.45 295.95 L198.88 295.97 L199.32 296 L199.76 296.03 L200.2 296.06 L200.64 296.09 L201.08 296.12 L201.51 296.15 L201.95 296.18 L202.39 296.21 L202.83 296.24 L203.27 296.27 L203.71 296.31 L204.14 296.34 L204.58 296.37 L205.02 296.4 L205.46 296.44 L205.9 296.47 L206.34 296.51 L206.78 296.54 L207.21 296.58 L207.65 296.61 L208.09 296.65 L208.53 296.68 L208.97 296.72 L209.41 296.76 L209.84 296.79 L210.28 296.83 L210.72 296.87 L211.16 296.9 L211.6 296.94 L212.04 296.97 L212.47 297.01 L212.91 297.05 L213.35 297.09 L213.79 297.13 L214.23 297.17 L214.67 297.21 L215.11 297.26 L215.54 297.3 L215.98 297.34 L216.42 297.38 L216.86 297.43 L217.3 297.47 L217.74 297.52 L218.17 297.56 L218.61 297.61 L219.05 297.65 L219.49 297.7 L219.93 297.74 L220.37 297.79 L220.81 297.84 L221.24 297.88 L221.68 297.93 L222.12 297.98 L222.56 298.03 L223 298.08 L223.44 298.13 L223.87 298.19 L224.31 298.24 L224.75 298.3 L225.19 298.36 L225.63 298.42 L226.07 298.49 L226.5 298.55 L226.94 298.62 L227.38 298.68 L227.82 298.75 L228.26 298.82 L228.7 298.89 L229.14 298.96 L229.57 299.03 L230.01 299.11 L230.45 299.18 L230.89 299.26 L231.33 299.33 L231.77 299.41 L232.2 299.49 L232.64 299.58 L233.08 299.67 L233.52 299.76 L233.96 299.85 L234.4 299.95 L234.83 300.05 L235.27 300.15 L235.71 300.26 L236.15 300.36 L236.59 300.47 L237.03 300.59 L237.47 300.7 L237.9 300.81 L238.34 300.93 L238.78 301.05 L239.22 301.17 L239.66 301.29 L240.1 301.41 L240.53 301.54 L240.97 301.66 L241.41 301.78 L241.85 301.91 L242.29 302.04 L242.73 302.18 L243.16 302.32 L243.6 302.47 L244.04 302.62 L244.48 302.77 L244.92 302.93 L245.36 303.1 L245.8 303.26 L246.23 303.43 L246.67 303.6 L247.11 303.78 L247.55 303.97 L247.99 304.17 L248.43 304.37 L248.86 304.58 L249.3 304.79 L249.74 305.02 L250.18 305.25 L250.62 305.49 L251.06 305.73 L251.49 305.98 L251.93 306.24 L252.37 306.5 L252.81 306.78 L253.25 307.07 L253.69 307.36 L254.13 307.67 L254.56 307.98 L255 308.29 L255.44 308.62 L255.88 308.95 L256.32 309.28 L256.76 309.62 L257.19 309.97 L257.63 310.32 L258.07 310.68 L258.51 311.04 L258.95 311.42 L259.39 311.8 L259.82 312.19 L260.26 312.6 L260.7 313.02 L261.14 313.45 L261.58 313.89 L262.02 314.35 L262.46 314.82 L262.89 315.31 L263.33 315.81 L263.77 316.33 L264.21 316.86 L264.65 317.41 L265.09 317.96 L265.52 318.51 L265.96 319.06 L266.4 319.61 L266.84 320.15 L267.28 320.7 L267.72 321.24 L268.15 321.78 L268.59 322.31 L269.03 322.81 L269.47 323.26 L269.91 323.57 L270.35 323.84 L270.79 324.11 L271.22 324.36 L271.66 324.59 L272.1 324.75 L272.54 324.86 L272.98 324.92 L273.42 324.9 L273.85 324.75 L274.29 324.55 L274.73 324.24 L275.17 323.78 L275.61 323.16 L276.05 322.27 L276.48 321.13 L276.92 319.75 L277.36 318.16 L277.8 316.34 L278.24 314.08 L278.68 311.33 L279.12 308.64 L279.55 305.73 L279.99 301.1 L280.43 296.29 L280.87 291.49 L281.31 286.69 L281.75 281.88 L282.18 277.35 L282.62 274.54 L283.06 271.82 L283.5 269.1 L283.94 266.88 L284.38 265.09 L284.82 263.52 L285.25 262.16 L285.69 261.04 L286.13 260.17 L286.57 259.57 L287.01 259.12 L287.45 258.83 L287.88 258.63 L288.32 258.5 L288.76 258.48 L289.2 258.55 L289.64 258.66 L290.08 258.83 L290.51 259.06 L290.95 259.32 L291.39 259.59 L291.83 259.86 L292.27 260.18 L292.71 260.63 L293.15 261.14 L293.58 261.67 L294.02 262.2 L294.46 262.75 L294.9 263.3 L295.34 263.84 L295.78 264.39 L296.21 264.94 L296.65 265.49 L297.09 266.04 L297.53 266.59 L297.97 267.12 L298.41 267.64 L298.84 268.14 L299.28 268.62 L299.72 269.09 L300.16 269.55 L300.6 269.99 L301.04 270.42 L301.48 270.84 L301.91 271.24 L302.35 271.63 L302.79 272.02 L303.23 272.39 L303.67 272.76 L304.11 273.11 L304.54 273.46 L304.98 273.81 L305.42 274.15 L305.86 274.48 L306.3 274.81 L306.74 275.13 L307.17 275.45 L307.61 275.76 L308.05 276.06 L308.49 276.36 L308.93 276.64 L309.37 276.92 L309.81 277.19 L310.24 277.44 L310.68 277.69 L311.12 277.94 L311.56 278.17 L312 278.4 L312.44 278.62 L312.87 278.84 L313.31 279.05 L313.75 279.25 L314.19 279.45 L314.63 279.63 L315.07 279.81 L315.5 279.98 L315.94 280.15 L316.38 280.32 L316.82 280.48 L317.26 280.64 L317.7 280.79 L318.14 280.94 L318.57 281.09 L319.01 281.23 L319.45 281.37 L319.89 281.5 L320.33 281.63 L320.77 281.75 L321.2 281.88 L321.64 282 L322.08 282.12 L322.52 282.24 L322.96 282.36 L323.4 282.48 L323.83 282.6 L324.27 282.71 L324.71 282.82 L325.15 282.94 L325.59 283.05 L326.03 283.15 L326.47 283.26 L326.9 283.36 L327.34 283.46 L327.78 283.56 L328.22 283.65 L328.66 283.74 L329.1 283.83 L329.53 283.91 L329.97 284 L330.41 284.07 L330.85 284.15 L331.29 284.23 L331.73 284.3 L332.16 284.37 L332.6 284.45 L333.04 284.52 L333.48 284.59 L333.92 284.66 L334.36 284.72 L334.8 284.79 L335.23 284.86 L335.67 284.92 L336.11 284.98 L336.55 285.04 L336.99 285.1 L337.43 285.16 L337.86 285.22 L338.3 285.27 L338.74 285.33 L339.18 285.38 L339.62 285.43 L340.06 285.47 L340.49 285.52 L340.93 285.57 L341.37 285.61 L341.81 285.66 L342.25 285.71 L342.69 285.75 L343.13 285.8 L343.56 285.84 L344 285.89 L344.44 285.93 L344.88 285.98 L345.32 286.02 L345.76 286.06 L346.19 286.11 L346.63 286.15 L347.07 286.19 L347.51 286.23 L347.95 286.27 L348.39 286.31 L348.83 286.35 L349.26 286.39 L349.7 286.43 L350.14 286.47 L350.58 286.5 L351.02 286.54 L351.46 286.57 L351.89 286.61 L352.33 286.65 L352.77 286.68 L353.21 286.72 L353.65 286.75 L354.09 286.79 L354.52 286.83 L354.96 286.86 L355.4 286.9 L355.84 286.93 L356.28 286.96 L356.72 287 L357.16 287.03 L357.59 287.07 L358.03 287.1 L358.47 287.13 L358.91 287.16 L359.35 287.19 L359.79 287.22 L360.22 287.25 L360.66 287.28 L361.1 287.31 L361.54 287.34 L361.98 287.37 L362.42 287.4 L362.85 287.43 L363.29 287.46 L363.73 287.49 L364.17 287.51 L364.61 287.54 L365.05 287.57 L365.49 287.6 L365.92 287.63 L366.36 287.65 L366.8 287.68 L367.24 287.71 L367.68 287.73 L368.12 287.76 L368.55 287.79 L368.99 287.81 L369.43 287.84 L369.87 287.87 L370.31 287.89 L370.75 287.92 L371.18 287.94 L371.62 287.97 L372.06 288 L372.5 288.02" fill="none" stroke="#0000ff" stroke-width="1.35" stroke-linejoin="round" stroke-linecap="butt" clip-path="url(#cD2)"/>
<path d="M188.8 294.92 L189.24 294.94 L189.68 294.97 L190.12 294.99 L190.55 295.02 L190.99 295.04 L191.43 295.07 L191.87 295.1 L192.31 295.12 L192.75 295.15 L193.18 295.18 L193.62 295.2 L194.06 295.23 L194.5 295.26 L194.94 295.29 L195.38 295.31 L195.81 295.34 L196.25 295.37 L196.69 295.4 L197.13 295.43 L197.57 295.45 L198.01 295.48 L198.45 295.51 L198.88 295.54 L199.32 295.57 L199.76 295.6 L200.2 295.63 L200.64 295.66 L201.08 295.69 L201.51 295.72 L201.95 295.75 L202.39 295.78 L202.83 295.81 L203.27 295.84 L203.71 295.88 L204.14 295.91 L204.58 295.94 L205.02 295.98 L205.46 296.01 L205.9 296.05 L206.34 296.08 L206.78 296.12 L207.21 296.15 L207.65 296.19 L208.09 296.23 L208.53 296.26 L208.97 296.3 L209.41 296.34 L209.84 296.37 L210.28 296.41 L210.72 296.45 L211.16 296.48 L211.6 296.52 L212.04 296.56 L212.47 296.6 L212.91 296.64 L213.35 296.68 L213.79 296.72 L214.23 296.76 L214.67 296.8 L215.11 296.85 L215.54 296.89 L215.98 296.93 L216.42 296.98 L216.86 297.02 L217.3 297.07 L217.74 297.11 L218.17 297.16 L218.61 297.21 L219.05 297.25 L219.49 297.3 L219.93 297.35 L220.37 297.39 L220.81 297.44 L221.24 297.49 L221.68 297.54 L222.12 297.59 L222.56 297.64 L223 297.69 L223.44 297.75 L223.87 297.8 L224.31 297.86 L224.75 297.92 L225.19 297.98 L225.63 298.04 L226.07 298.11 L226.5 298.17 L226.94 298.24 L227.38 298.31 L227.82 298.38 L228.26 298.45 L228.7 298.52 L229.14 298.6 L229.57 298.67 L230.01 298.74 L230.45 298.82 L230.89 298.9 L231.33 298.98 L231.77 299.06 L232.2 299.14 L232.64 299.23 L233.08 299.32 L233.52 299.41 L233.96 299.51 L234.4 299.61 L234.83 299.71 L235.27 299.82 L235.71 299.92 L236.15 300.03 L236.59 300.15 L237.03 300.26 L237.47 300.38 L237.9 300.5 L238.34 300.62 L238.78 300.74 L239.22 300.86 L239.66 300.98 L240.1 301.11 L240.53 301.23 L240.97 301.36 L241.41 301.49 L241.85 301.62 L242.29 301.75 L242.73 301.89 L243.16 302.04 L243.6 302.19 L244.04 302.34 L244.48 302.5 L244.92 302.66 L245.36 302.83 L245.8 303 L246.23 303.17 L246.67 303.35 L247.11 303.53 L247.55 303.72 L247.99 303.92 L248.43 304.13 L248.86 304.34 L249.3 304.56 L249.74 304.79 L250.18 305.03 L250.62 305.27 L251.06 305.51 L251.49 305.77 L251.93 306.03 L252.37 306.3 L252.81 306.58 L253.25 306.87 L253.69 307.17 L254.13 307.48 L254.56 307.79 L255 308.12 L255.44 308.44 L255.88 308.78 L256.32 309.12 L256.76 309.46 L257.19 309.81 L257.63 310.17 L258.07 310.53 L258.51 310.9 L258.95 311.28 L259.39 311.67 L259.82 312.06 L260.26 312.47 L260.7 312.89 L261.14 313.33 L261.58 313.78 L262.02 314.24 L262.46 314.72 L262.89 315.21 L263.33 315.71 L263.77 316.23 L264.21 316.77 L264.65 317.32 L265.09 317.87 L265.52 318.43 L265.96 318.98 L266.4 319.54 L266.84 320.09 L267.28 320.64 L267.72 321.19 L268.15 321.73 L268.59 322.25 L269.03 322.77 L269.47 323.21 L269.91 323.53 L270.35 323.8 L270.79 324.07 L271.22 324.33 L271.66 324.56 L272.1 324.73 L272.54 324.84 L272.98 324.9 L273.42 324.88 L273.85 324.74 L274.29 324.53 L274.73 324.23 L275.17 323.77 L275.61 323.15 L276.05 322.26 L276.48 321.13 L276.92 319.75 L277.36 318.15 L277.8 316.34 L278.24 314.08 L278.68 311.33 L279.12 308.64 L279.55 305.73 L279.99 301.1 L280.43 296.29 L280.87 291.49 L281.31 286.69 L281.75 281.88 L282.18 277.35 L282.62 274.54 L283.06 271.82 L283.5 269.1 L283.94 266.89 L284.38 265.1 L284.82 263.52 L285.25 262.16 L285.69 261.05 L286.13 260.18 L286.57 259.58 L287.01 259.14 L287.45 258.85 L287.88 258.65 L288.32 258.52 L288.76 258.5 L289.2 258.57 L289.64 258.69 L290.08 258.86 L290.51 259.1 L290.95 259.35 L291.39 259.63 L291.83 259.9 L292.27 260.22 L292.71 260.68 L293.15 261.19 L293.58 261.72 L294.02 262.26 L294.46 262.81 L294.9 263.36 L295.34 263.91 L295.78 264.46 L296.21 265.02 L296.65 265.57 L297.09 266.13 L297.53 266.67 L297.97 267.21 L298.41 267.73 L298.84 268.24 L299.28 268.73 L299.72 269.2 L300.16 269.66 L300.6 270.11 L301.04 270.54 L301.48 270.96 L301.91 271.37 L302.35 271.77 L302.79 272.16 L303.23 272.53 L303.67 272.9 L304.11 273.26 L304.54 273.62 L304.98 273.97 L305.42 274.31 L305.86 274.65 L306.3 274.98 L306.74 275.31 L307.17 275.63 L307.61 275.95 L308.05 276.25 L308.49 276.55 L308.93 276.84 L309.37 277.12 L309.81 277.39 L310.24 277.65 L310.68 277.91 L311.12 278.15 L311.56 278.4 L312 278.63 L312.44 278.86 L312.87 279.08 L313.31 279.29 L313.75 279.5 L314.19 279.69 L314.63 279.88 L315.07 280.07 L315.5 280.24 L315.94 280.41 L316.38 280.58 L316.82 280.75 L317.26 280.91 L317.7 281.07 L318.14 281.22 L318.57 281.37 L319.01 281.52 L319.45 281.66 L319.89 281.79 L320.33 281.92 L320.77 282.05 L321.2 282.18 L321.64 282.3 L322.08 282.43 L322.52 282.55 L322.96 282.67 L323.4 282.8 L323.83 282.92 L324.27 283.03 L324.71 283.15 L325.15 283.26 L325.59 283.38 L326.03 283.48 L326.47 283.59 L326.9 283.7 L327.34 283.8 L327.78 283.9 L328.22 284 L328.66 284.09 L329.1 284.18 L329.53 284.27 L329.97 284.35 L330.41 284.43 L330.85 284.51 L331.29 284.59 L331.73 284.66 L332.16 284.74 L332.6 284.81 L333.04 284.88 L333.48 284.96 L333.92 285.03 L334.36 285.1 L334.8 285.17 L335.23 285.23 L335.67 285.3 L336.11 285.36 L336.55 285.42 L336.99 285.49 L337.43 285.54 L337.86 285.6 L338.3 285.66 L338.74 285.71 L339.18 285.77 L339.62 285.82 L340.06 285.87 L340.49 285.92 L340.93 285.96 L341.37 286.01 L341.81 286.06 L342.25 286.1 L342.69 286.15 L343.13 286.2 L343.56 286.24 L344 286.29 L344.44 286.34 L344.88 286.38 L345.32 286.43 L345.76 286.47 L346.19 286.52 L346.63 286.56 L347.07 286.6 L347.51 286.64 L347.95 286.69 L348.39 286.73 L348.83 286.77 L349.26 286.81 L349.7 286.84 L350.14 286.88 L350.58 286.92 L351.02 286.96 L351.46 286.99 L351.89 287.03 L352.33 287.07 L352.77 287.1 L353.21 287.14 L353.65 287.18 L354.09 287.21 L354.52 287.25 L354.96 287.29 L355.4 287.32 L355.84 287.36 L356.28 287.39 L356.72 287.43 L357.16 287.46 L357.59 287.49 L358.03 287.53 L358.47 287.56 L358.91 287.59 L359.35 287.62 L359.79 287.65 L360.22 287.68 L360.66 287.71 L361.1 287.74 L361.54 287.77 L361.98 287.8 L362.42 287.83 L362.85 287.86 L363.29 287.89 L363.73 287.92 L364.17 287.95 L364.61 287.98 L365.05 288.01 L365.49 288.03 L365.92 288.06 L366.36 288.09 L366.8 288.12 L367.24 288.14 L367.68 288.17 L368.12 288.2 L368.55 288.23 L368.99 288.25 L369.43 288.28 L369.87 288.31 L370.31 288.33 L370.75 288.36 L371.18 288.38 L371.62 288.41 L372.06 288.44 L372.5 288.46" fill="none" stroke="#ff0000" stroke-width="1.35" stroke-linejoin="round" stroke-linecap="butt" clip-path="url(#cD2)"/>
<line x1="266.7" y1="145.9" x2="266.7" y2="42.04" stroke="#000000" stroke-width="0.95" />
<path d="M266.7 33.5 L269.9 45.7 L266.7 43.26 L263.5 45.7 Z" fill="#000000"/>
<line x1="295" y1="79" x2="295" y2="56.44" stroke="#000000" stroke-width="0.95" />
<path d="M295 47.9 L298.2 60.1 L295 57.66 L291.8 60.1 Z" fill="#000000"/>
<line x1="273" y1="324.4" x2="273" y2="220.84" stroke="#000000" stroke-width="0.95" />
<path d="M273 212.3 L276.2 224.5 L273 222.06 L269.8 224.5 Z" fill="#000000"/>
<line x1="288.9" y1="259" x2="288.9" y2="236.34" stroke="#000000" stroke-width="0.95" />
<path d="M288.9 227.8 L292.1 240 L288.9 237.56 L285.7 240 Z" fill="#000000"/>
<line x1="134.2" y1="15.4" x2="148.9" y2="15.4" stroke="#ff0000" stroke-width="1.2" />
<line x1="134.2" y1="27.2" x2="148.9" y2="27.2" stroke="#0000ff" stroke-width="1.2" />
<line x1="134.2" y1="194.65" x2="148.9" y2="194.65" stroke="#ff0000" stroke-width="1.2" />
<line x1="134.2" y1="206.45" x2="148.9" y2="206.45" stroke="#0000ff" stroke-width="1.2" />
<line x1="343.9" y1="12.85" x2="360.9" y2="12.85" stroke="#ff0000" stroke-width="1.2" />
<line x1="343.9" y1="24.7" x2="360.9" y2="24.7" stroke="#0000ff" stroke-width="1.2" />
<line x1="343.9" y1="120.9" x2="360.9" y2="120.9" stroke="#ff0000" stroke-width="1.2" />
<line x1="343.9" y1="137" x2="360.9" y2="137" stroke="#0000ff" stroke-width="1.2" />
<line x1="346.5" y1="192" x2="361.1" y2="192" stroke="#ff0000" stroke-width="1.2" />
<line x1="346.5" y1="203.6" x2="361.1" y2="203.6" stroke="#0000ff" stroke-width="1.2" />
<line x1="346.5" y1="299.5" x2="361.1" y2="299.5" stroke="#ff0000" stroke-width="1.2" />
<line x1="346.5" y1="316.2" x2="361.1" y2="316.2" stroke="#0000ff" stroke-width="1.2" />
<g transform="translate(128.7 19.6) scale(0.9091 1)"><text id="legA1a" x="0" y="0" font-family='"Liberation Sans", sans-serif' font-size="12" fill="#1a1a1a" text-anchor="end" >A<tspan font-size="8.5" dy="2.7">1</tspan><tspan dy="-2.7" font-size="1">&#8203;</tspan> &#183; W<tspan font-size="8.5" dy="2.7">1</tspan><tspan dy="-2.7" font-size="1">&#8203;</tspan></text></g>
<g transform="translate(128.7 31.7) scale(0.9091 1)"><text id="legA2a" x="0" y="0" font-family='"Liberation Sans", sans-serif' font-size="12" fill="#1a1a1a" text-anchor="end" >A<tspan font-size="8.5" dy="2.7">2</tspan><tspan dy="-2.7" font-size="1">&#8203;</tspan> &#183; W<tspan font-size="8.5" dy="2.7">1</tspan><tspan dy="-2.7" font-size="1">&#8203;</tspan></text></g>
<g transform="translate(128.7 198.85) scale(0.9091 1)"><text id="legA1c" x="0" y="0" font-family='"Liberation Sans", sans-serif' font-size="12" fill="#1a1a1a" text-anchor="end" >A<tspan font-size="8.5" dy="2.7">1</tspan><tspan dy="-2.7" font-size="1">&#8203;</tspan> &#183; W<tspan font-size="8.5" dy="2.7">1</tspan><tspan dy="-2.7" font-size="1">&#8203;</tspan></text></g>
<g transform="translate(128.7 210.95) scale(0.9091 1)"><text id="legA2c" x="0" y="0" font-family='"Liberation Sans", sans-serif' font-size="12" fill="#1a1a1a" text-anchor="end" >A<tspan font-size="8.5" dy="2.7">2</tspan><tspan dy="-2.7" font-size="1">&#8203;</tspan> &#183; W<tspan font-size="8.5" dy="2.7">1</tspan><tspan dy="-2.7" font-size="1">&#8203;</tspan></text></g>
<g transform="translate(26.7 21.2) scale(0.9325 1)"><text id="la" x="0" y="0" font-family='"Liberation Sans", sans-serif' font-size="12" fill="#1a1a1a" text-anchor="start" >(a)</text></g>
<g transform="translate(26.2 205.3) scale(0.9996 1)"><text id="lc" x="0" y="0" font-family='"Liberation Sans", sans-serif' font-size="12" fill="#1a1a1a" text-anchor="start" >(c)</text></g>
<g transform="translate(29.1 52.9) scale(0.9483 1)"><text id="a1L" x="0" y="0" font-family='"Liberation Sans", sans-serif' font-size="12" fill="#1a1a1a" text-anchor="start" >W<tspan font-size="8.5" dy="2.7">2</tspan><tspan dy="-2.7" font-size="1">&#8203;</tspan></text></g>
<line x1="48.1" y1="51.55" x2="56.3" y2="51.55" stroke="#1a1a1a" stroke-width="0.8" opacity="0.85"/>
<line x1="48.1" y1="48.7" x2="56.3" y2="48.7" stroke="#1a1a1a" stroke-width="0.8" opacity="0.85"/>
<g transform="translate(60.2 52.9) scale(0.9042 1)"><text id="a1R" x="0" y="0" font-family='"Liberation Sans", sans-serif' font-size="12" fill="#1a1a1a" text-anchor="start" >2W<tspan font-size="8.5" dy="2.7">1</tspan><tspan dy="-2.7" font-size="1">&#8203;</tspan></text></g>
<g transform="translate(30.3 67.65) scale(0.7332 1)"><text id="a2L" x="0" y="0" font-family='"Liberation Sans", sans-serif' font-size="12" fill="#1a1a1a" text-anchor="start" >J</text></g>
<line x1="47.7" y1="66.3" x2="55.5" y2="66.3" stroke="#1a1a1a" stroke-width="0.8" opacity="0.85"/>
<line x1="47.7" y1="63.45" x2="55.5" y2="63.45" stroke="#1a1a1a" stroke-width="0.8" opacity="0.85"/>
<g transform="translate(59.9 67.65) scale(0.9439 1)"><text id="a2R" x="0" y="0" font-family='"Liberation Sans", sans-serif' font-size="12" fill="#1a1a1a" text-anchor="start" >U<tspan font-size="15.5" dy="2.2" dx="0.3">/</tspan><tspan dy="-2.2" dx="0.3" font-size="1">&#8203;</tspan>4</text></g>
<g transform="translate(29.8 82) scale(0.8511 1)"><text id="a3L" x="0" y="0" font-family='"Liberation Sans", sans-serif' font-size="12" fill="#1a1a1a" text-anchor="start" >U<tspan font-size="8.5" dy="2.7">1</tspan><tspan dy="-2.7" font-size="1">&#8203;</tspan></text></g>
<line x1="46.1" y1="80.65" x2="54.3" y2="80.65" stroke="#1a1a1a" stroke-width="0.8" opacity="0.85"/>
<line x1="46.1" y1="77.8" x2="54.3" y2="77.8" stroke="#1a1a1a" stroke-width="0.8" opacity="0.85"/>
<g transform="translate(58.3 82) scale(0.9580 1)"><text id="a3R" x="0" y="0" font-family='"Liberation Sans", sans-serif' font-size="12" fill="#1a1a1a" text-anchor="start" >U<tspan font-size="15.5" dy="2.2" dx="0.3">/</tspan><tspan dy="-2.2" dx="0.3" font-size="1">&#8203;</tspan>2</text></g>
<g transform="translate(96.1 52.85) scale(0.8883 1)"><text id="a4L" x="0" y="0" font-family='"Liberation Sans", sans-serif' font-size="12" fill="#1a1a1a" text-anchor="start" >U</text></g>
<line x1="107.9" y1="51.5" x2="116.3" y2="51.5" stroke="#1a1a1a" stroke-width="0.8" opacity="0.85"/>
<line x1="107.9" y1="48.65" x2="116.3" y2="48.65" stroke="#1a1a1a" stroke-width="0.8" opacity="0.85"/>
<g transform="translate(119.6 52.85) scale(0.9186 1)"><text id="a4R" x="0" y="0" font-family='"Liberation Sans", sans-serif' font-size="12" fill="#1a1a1a" text-anchor="start" >1.15W<tspan font-size="8.5" dy="2.7">1</tspan><tspan dy="-2.7" font-size="1">&#8203;</tspan></text></g>
<g transform="translate(28.9 232.75) scale(0.9483 1)"><text id="c1L" x="0" y="0" font-family='"Liberation Sans", sans-serif' font-size="12" fill="#1a1a1a" text-anchor="start" >W<tspan font-size="8.5" dy="2.7">2</tspan><tspan dy="-2.7" font-size="1">&#8203;</tspan></text></g>
<line x1="48.3" y1="231.4" x2="56.5" y2="231.4" stroke="#1a1a1a" stroke-width="0.8" opacity="0.85"/>
<line x1="48.3" y1="228.55" x2="56.5" y2="228.55" stroke="#1a1a1a" stroke-width="0.8" opacity="0.85"/>
<g transform="translate(60.8 232.75) scale(0.8834 1)"><text id="c1R" x="0" y="0" font-family='"Liberation Sans", sans-serif' font-size="12" fill="#1a1a1a" text-anchor="start" >1.4W<tspan font-size="8.5" dy="2.7">1</tspan><tspan dy="-2.7" font-size="1">&#8203;</tspan></text></g>
<g transform="translate(29.8 247.4) scale(0.7332 1)"><text id="c2L" x="0" y="0" font-family='"Liberation Sans", sans-serif' font-size="12" fill="#0000ff" text-anchor="start" >J</text></g>
<line x1="47.4" y1="246.05" x2="55.4" y2="246.05" stroke="#0000ff" stroke-width="0.8" opacity="0.85"/>
<line x1="47.4" y1="243.2" x2="55.4" y2="243.2" stroke="#0000ff" stroke-width="0.8" opacity="0.85"/>
<g transform="translate(59.9 247.4) scale(0.9288 1)"><text id="c2R" x="0" y="0" font-family='"Liberation Sans", sans-serif' font-size="12" fill="#0000ff" text-anchor="start" >U<tspan font-size="15.5" dy="2.2" dx="0.3">/</tspan><tspan dy="-2.2" dx="0.3" font-size="1">&#8203;</tspan>10</text></g>
<g transform="translate(29.6 261.1) scale(0.8511 1)"><text id="c3L" x="0" y="0" font-family='"Liberation Sans", sans-serif' font-size="12" fill="#ff0000" text-anchor="start" >U<tspan font-size="8.5" dy="2.7">1</tspan><tspan dy="-2.7" font-size="1">&#8203;</tspan></text></g>
<line x1="45.5" y1="259.75" x2="53.9" y2="259.75" stroke="#ff0000" stroke-width="0.8" opacity="0.85"/>
<line x1="45.5" y1="256.9" x2="53.9" y2="256.9" stroke="#ff0000" stroke-width="0.8" opacity="0.85"/>
<g transform="translate(57.7 261.1) scale(1.0039 1)"><text id="c3R" x="0" y="0" font-family='"Liberation Sans", sans-serif' font-size="12" fill="#ff0000" text-anchor="start" >0</text></g>
<g transform="translate(101.1 232.6) scale(0.8883 1)"><text id="c4L" x="0" y="0" font-family='"Liberation Sans", sans-serif' font-size="12" fill="#1a1a1a" text-anchor="start" >U</text></g>
<line x1="112.6" y1="231.25" x2="121.6" y2="231.25" stroke="#1a1a1a" stroke-width="0.8" opacity="0.85"/>
<line x1="112.6" y1="228.4" x2="121.6" y2="228.4" stroke="#1a1a1a" stroke-width="0.8" opacity="0.85"/>
<g transform="translate(124.8 232.6) scale(0.9477 1)"><text id="c4R" x="0" y="0" font-family='"Liberation Sans", sans-serif' font-size="12" fill="#1a1a1a" text-anchor="start" >1.2W<tspan font-size="8.5" dy="2.7">1</tspan><tspan dy="-2.7" font-size="1">&#8203;</tspan></text></g>
<g transform="translate(195.5 33.1) scale(0.9477 1)"><text id="lb" x="0" y="0" font-family='"Liberation Sans", sans-serif' font-size="12" fill="#1a1a1a" text-anchor="start" >(b)</text></g>
<g transform="translate(195.5 107.1) scale(1.0055 1)"><text id="lb2" x="0" y="0" font-family='"Liberation Sans", sans-serif' font-size="12" fill="#1a1a1a" text-anchor="start" >(b&#8242;)</text></g>
<g transform="translate(195.5 213) scale(0.9882 1)"><text id="ld" x="0" y="0" font-family='"Liberation Sans", sans-serif' font-size="12" fill="#1a1a1a" text-anchor="start" >(d)</text></g>
<g transform="translate(195.5 268) scale(0.9726 1)"><text id="ld2" x="0" y="0" font-family='"Liberation Sans", sans-serif' font-size="12" fill="#1a1a1a" text-anchor="start" >(d&#8242;)</text></g>
<g transform="translate(316.7 17.5) scale(0.8690 1)"><text id="legb1L" x="0" y="0" font-family='"Liberation Sans", sans-serif' font-size="12" fill="#1a1a1a" text-anchor="end" >Re&#931;<tspan font-size="8.5" dy="2.7">1</tspan><tspan dy="-2.7" font-size="1">&#8203;</tspan></text></g>
<line x1="317.9" y1="19.1" x2="323.4" y2="8.1" stroke="#1a1a1a" stroke-width="0.85" opacity="0.85"/>
<g transform="translate(323.6 17.5) scale(0.8776 1)"><text id="legb1R" x="0" y="0" font-family='"Liberation Sans", sans-serif' font-size="12" fill="#1a1a1a" text-anchor="start" >W<tspan font-size="8.5" dy="2.7">1</tspan><tspan dy="-2.7" font-size="1">&#8203;</tspan></text></g>
<g transform="translate(316.7 29.3) scale(0.9043 1)"><text id="legb2L" x="0" y="0" font-family='"Liberation Sans", sans-serif' font-size="12" fill="#1a1a1a" text-anchor="end" >8.8Re&#931;<tspan font-size="8.5" dy="2.7">2</tspan><tspan dy="-2.7" font-size="1">&#8203;</tspan></text></g>
<line x1="317.9" y1="30.9" x2="323.4" y2="19.9" stroke="#1a1a1a" stroke-width="0.85" opacity="0.85"/>
<g transform="translate(323.6 29.3) scale(0.8776 1)"><text id="legb2R" x="0" y="0" font-family='"Liberation Sans", sans-serif' font-size="12" fill="#1a1a1a" text-anchor="start" >W<tspan font-size="8.5" dy="2.7">1</tspan><tspan dy="-2.7" font-size="1">&#8203;</tspan></text></g>
<g transform="translate(319.4 195.8) scale(0.8774 1)"><text id="legd1L" x="0" y="0" font-family='"Liberation Sans", sans-serif' font-size="12" fill="#1a1a1a" text-anchor="end" >Re&#931;<tspan font-size="8.5" dy="2.7">1</tspan><tspan dy="-2.7" font-size="1">&#8203;</tspan></text></g>
<line x1="320.6" y1="197.4" x2="326.2" y2="186.4" stroke="#1a1a1a" stroke-width="0.85" opacity="0.85"/>
<g transform="translate(326.6 195.8) scale(0.8907 1)"><text id="legd1R" x="0" y="0" font-family='"Liberation Sans", sans-serif' font-size="12" fill="#1a1a1a" text-anchor="start" >W<tspan font-size="8.5" dy="2.7">1</tspan><tspan dy="-2.7" font-size="1">&#8203;</tspan></text></g>
<g transform="translate(319.4 207.6) scale(0.8785 1)"><text id="legd2L" x="0" y="0" font-family='"Liberation Sans", sans-serif' font-size="12" fill="#1a1a1a" text-anchor="end" >4.275Re&#931;<tspan font-size="8.5" dy="2.7">2</tspan><tspan dy="-2.7" font-size="1">&#8203;</tspan></text></g>
<line x1="320.6" y1="209.2" x2="326.2" y2="198.2" stroke="#1a1a1a" stroke-width="0.85" opacity="0.85"/>
<g transform="translate(326.6 207.6) scale(0.8907 1)"><text id="legd2R" x="0" y="0" font-family='"Liberation Sans", sans-serif' font-size="12" fill="#1a1a1a" text-anchor="start" >W<tspan font-size="8.5" dy="2.7">1</tspan><tspan dy="-2.7" font-size="1">&#8203;</tspan></text></g>
<g transform="translate(337.3 124.5) scale(0.8390 1)"><text id="legbp1w" x="0" y="0" font-family='"Liberation Sans", sans-serif' font-size="12" fill="#1a1a1a" text-anchor="end" >&#183; W<tspan font-size="8.5" dy="2.7">1</tspan><tspan dy="-2.7" font-size="1">&#8203;</tspan></text></g>
<text x="300" y="124.5" font-family='"Liberation Serif", serif' font-style="italic" font-size="13.6" fill="#1a1a1a">&#967;</text>
<text x="306.5" y="119" font-family='"Liberation Sans", sans-serif' font-size="7.6" fill="#1a1a1a">sp</text>
<text x="306.5" y="127.8" font-family='"Liberation Sans", sans-serif' font-size="8.3" fill="#1a1a1a">1</text>
<g transform="translate(337.3 140.9) scale(0.8390 1)"><text id="legbp2w" x="0" y="0" font-family='"Liberation Sans", sans-serif' font-size="12" fill="#1a1a1a" text-anchor="end" >&#183; W<tspan font-size="8.5" dy="2.7">1</tspan><tspan dy="-2.7" font-size="1">&#8203;</tspan></text></g>
<text x="300" y="140.9" font-family='"Liberation Serif", serif' font-style="italic" font-size="13.6" fill="#1a1a1a">&#967;</text>
<text x="306.5" y="135.4" font-family='"Liberation Sans", sans-serif' font-size="7.6" fill="#1a1a1a">sp</text>
<text x="306.5" y="144.2" font-family='"Liberation Sans", sans-serif' font-size="8.3" fill="#1a1a1a">2</text>
<g transform="translate(299.1 140.9) scale(0.9170 1)"><text id="legbp2p" x="0" y="0" font-family='"Liberation Sans", sans-serif' font-size="12" fill="#1a1a1a" text-anchor="end" >3.48</text></g>
<g transform="translate(340.7 304.5) scale(0.8390 1)"><text id="legdp1w" x="0" y="0" font-family='"Liberation Sans", sans-serif' font-size="12" fill="#1a1a1a" text-anchor="end" >&#183; W<tspan font-size="8.5" dy="2.7">1</tspan><tspan dy="-2.7" font-size="1">&#8203;</tspan></text></g>
<text x="303.4" y="304.5" font-family='"Liberation Serif", serif' font-style="italic" font-size="13.6" fill="#1a1a1a">&#967;</text>
<text x="309.9" y="299" font-family='"Liberation Sans", sans-serif' font-size="7.6" fill="#1a1a1a">sp</text>
<text x="309.9" y="307.8" font-family='"Liberation Sans", sans-serif' font-size="8.3" fill="#1a1a1a">1</text>
<g transform="translate(340.7 321) scale(0.8390 1)"><text id="legdp2w" x="0" y="0" font-family='"Liberation Sans", sans-serif' font-size="12" fill="#1a1a1a" text-anchor="end" >&#183; W<tspan font-size="8.5" dy="2.7">1</tspan><tspan dy="-2.7" font-size="1">&#8203;</tspan></text></g>
<text x="303.4" y="321" font-family='"Liberation Serif", serif' font-style="italic" font-size="13.6" fill="#1a1a1a">&#967;</text>
<text x="309.9" y="315.5" font-family='"Liberation Sans", sans-serif' font-size="7.6" fill="#1a1a1a">sp</text>
<text x="309.9" y="324.3" font-family='"Liberation Sans", sans-serif' font-size="8.3" fill="#1a1a1a">2</text>
<g transform="translate(302.5 321) scale(0.9177 1)"><text id="legdp2p" x="0" y="0" font-family='"Liberation Sans", sans-serif' font-size="12" fill="#1a1a1a" text-anchor="end" >2.3</text></g>
<g transform="translate(15.8 10.2) scale(0.91 1)"><text id="ya1.5" x="0" y="0" font-family='"Liberation Serif", serif' font-size="13.2" fill="#3c3c3c" text-anchor="end">1.5</text></g>
<g transform="translate(15.8 58.07) scale(0.91 1)"><text id="ya1" x="0" y="0" font-family='"Liberation Serif", serif' font-size="13.2" fill="#3c3c3c" text-anchor="end">1</text></g>
<g transform="translate(15.8 105.93) scale(0.91 1)"><text id="ya0.5" x="0" y="0" font-family='"Liberation Serif", serif' font-size="13.2" fill="#3c3c3c" text-anchor="end">0.5</text></g>
<g transform="translate(15.8 153.8) scale(0.91 1)"><text id="ya0" x="0" y="0" font-family='"Liberation Serif", serif' font-size="13.2" fill="#3c3c3c" text-anchor="end">0</text></g>
<g transform="translate(34.9 163.1) scale(0.91 1)"><text id="xa-2" x="0" y="0" font-family='"Liberation Serif", serif' font-size="13.2" fill="#3c3c3c" text-anchor="middle">-2</text></g>
<g transform="translate(62.6 163.1) scale(0.91 1)"><text id="xa-1" x="0" y="0" font-family='"Liberation Serif", serif' font-size="13.2" fill="#3c3c3c" text-anchor="middle">-1</text></g>
<g transform="translate(92.2 163.1) scale(0.91 1)"><text id="xa0" x="0" y="0" font-family='"Liberation Serif", serif' font-size="13.2" fill="#3c3c3c" text-anchor="middle">0</text></g>
<g transform="translate(119.9 163.1) scale(0.91 1)"><text id="xa1" x="0" y="0" font-family='"Liberation Serif", serif' font-size="13.2" fill="#3c3c3c" text-anchor="middle">1</text></g>
<g transform="translate(147.6 163.1) scale(0.91 1)"><text id="xa2" x="0" y="0" font-family='"Liberation Serif", serif' font-size="13.2" fill="#3c3c3c" text-anchor="middle">2</text></g>
<g transform="translate(83 175.8) scale(0.9839 1)"><text id="xlaL" x="0" y="0" font-family='"Liberation Sans", sans-serif' font-size="12" fill="#1a1a1a" text-anchor="end" ><tspan font-family='"Liberation Serif", serif' font-style="italic" font-size="11.8" fill="#333">&#969;</tspan></text></g>
<line x1="84.1" y1="178.4" x2="89.7" y2="166.1" stroke="#1a1a1a" stroke-width="0.85" opacity="0.85"/>
<g transform="translate(90.1 175.8) scale(0.8637 1)"><text id="xlaR" x="0" y="0" font-family='"Liberation Sans", sans-serif' font-size="12" fill="#1a1a1a" text-anchor="start" >W<tspan font-size="8.5" dy="1.8">1</tspan><tspan dy="-1.8" font-size="1">&#8203;</tspan></text></g>
<g transform="translate(273.9 175.4) scale(0.9839 1)"><text id="xraL" x="0" y="0" font-family='"Liberation Sans", sans-serif' font-size="12" fill="#1a1a1a" text-anchor="end" ><tspan font-family='"Liberation Serif", serif' font-style="italic" font-size="11.8" fill="#333">&#969;</tspan></text></g>
<line x1="275" y1="178" x2="280.6" y2="165.7" stroke="#1a1a1a" stroke-width="0.85" opacity="0.85"/>
<g transform="translate(281 175.4) scale(0.8637 1)"><text id="xraR" x="0" y="0" font-family='"Liberation Sans", sans-serif' font-size="12" fill="#1a1a1a" text-anchor="start" >W<tspan font-size="8.5" dy="1.8">1</tspan><tspan dy="-1.8" font-size="1">&#8203;</tspan></text></g>
<g transform="translate(15.8 189.4) scale(0.91 1)"><text id="yc1.5" x="0" y="0" font-family='"Liberation Serif", serif' font-size="13.2" fill="#3c3c3c" text-anchor="end">1.5</text></g>
<g transform="translate(15.8 237.27) scale(0.91 1)"><text id="yc1" x="0" y="0" font-family='"Liberation Serif", serif' font-size="13.2" fill="#3c3c3c" text-anchor="end">1</text></g>
<g transform="translate(15.8 285.13) scale(0.91 1)"><text id="yc0.5" x="0" y="0" font-family='"Liberation Serif", serif' font-size="13.2" fill="#3c3c3c" text-anchor="end">0.5</text></g>
<g transform="translate(15.8 333) scale(0.91 1)"><text id="yc0" x="0" y="0" font-family='"Liberation Serif", serif' font-size="13.2" fill="#3c3c3c" text-anchor="end">0</text></g>
<g transform="translate(34.9 342.3) scale(0.91 1)"><text id="xc-2" x="0" y="0" font-family='"Liberation Serif", serif' font-size="13.2" fill="#3c3c3c" text-anchor="middle">-2</text></g>
<g transform="translate(62.6 342.3) scale(0.91 1)"><text id="xc-1" x="0" y="0" font-family='"Liberation Serif", serif' font-size="13.2" fill="#3c3c3c" text-anchor="middle">-1</text></g>
<g transform="translate(92.2 342.3) scale(0.91 1)"><text id="xc0" x="0" y="0" font-family='"Liberation Serif", serif' font-size="13.2" fill="#3c3c3c" text-anchor="middle">0</text></g>
<g transform="translate(119.9 342.3) scale(0.91 1)"><text id="xc1" x="0" y="0" font-family='"Liberation Serif", serif' font-size="13.2" fill="#3c3c3c" text-anchor="middle">1</text></g>
<g transform="translate(147.6 342.3) scale(0.91 1)"><text id="xc2" x="0" y="0" font-family='"Liberation Serif", serif' font-size="13.2" fill="#3c3c3c" text-anchor="middle">2</text></g>
<g transform="translate(83 355) scale(0.9839 1)"><text id="xlcL" x="0" y="0" font-family='"Liberation Sans", sans-serif' font-size="12" fill="#1a1a1a" text-anchor="end" ><tspan font-family='"Liberation Serif", serif' font-style="italic" font-size="11.8" fill="#333">&#969;</tspan></text></g>
<line x1="84.1" y1="357.6" x2="89.7" y2="345.3" stroke="#1a1a1a" stroke-width="0.85" opacity="0.85"/>
<g transform="translate(90.1 355) scale(0.8637 1)"><text id="xlcR" x="0" y="0" font-family='"Liberation Sans", sans-serif' font-size="12" fill="#1a1a1a" text-anchor="start" >W<tspan font-size="8.5" dy="1.8">1</tspan><tspan dy="-1.8" font-size="1">&#8203;</tspan></text></g>
<g transform="translate(273.9 354.6) scale(0.9839 1)"><text id="xrcL" x="0" y="0" font-family='"Liberation Sans", sans-serif' font-size="12" fill="#1a1a1a" text-anchor="end" ><tspan font-family='"Liberation Serif", serif' font-style="italic" font-size="11.8" fill="#333">&#969;</tspan></text></g>
<line x1="275" y1="357.2" x2="280.6" y2="344.9" stroke="#1a1a1a" stroke-width="0.85" opacity="0.85"/>
<g transform="translate(281 354.6) scale(0.8637 1)"><text id="xrcR" x="0" y="0" font-family='"Liberation Sans", sans-serif' font-size="12" fill="#1a1a1a" text-anchor="start" >W<tspan font-size="8.5" dy="1.8">1</tspan><tspan dy="-1.8" font-size="1">&#8203;</tspan></text></g>
<g transform="translate(184.5 22.3) scale(0.91 1)"><text id="yb1" x="0" y="0" font-family='"Liberation Serif", serif' font-size="13.2" fill="#3c3c3c" text-anchor="end">0.3</text></g>
<g transform="translate(184.5 43.6) scale(0.91 1)"><text id="yb2" x="0" y="0" font-family='"Liberation Serif", serif' font-size="13.2" fill="#3c3c3c" text-anchor="end">0</text></g>
<g transform="translate(184.5 65.6) scale(0.91 1)"><text id="yb3" x="0" y="0" font-family='"Liberation Serif", serif' font-size="13.2" fill="#3c3c3c" text-anchor="end">-0.3</text></g>
<g transform="translate(184.5 89.5) scale(0.91 1)"><text id="yb4" x="0" y="0" font-family='"Liberation Serif", serif' font-size="13.2" fill="#3c3c3c" text-anchor="end">3</text></g>
<g transform="translate(184.5 116.7) scale(0.91 1)"><text id="yb5" x="0" y="0" font-family='"Liberation Serif", serif' font-size="13.2" fill="#3c3c3c" text-anchor="end">0</text></g>
<g transform="translate(184.5 143.9) scale(0.91 1)"><text id="yb6" x="0" y="0" font-family='"Liberation Serif", serif' font-size="13.2" fill="#3c3c3c" text-anchor="end">-3</text></g>
<g transform="translate(184.5 199.2) scale(0.91 1)"><text id="yd1" x="0" y="0" font-family='"Liberation Serif", serif' font-size="13.2" fill="#3c3c3c" text-anchor="end">0.5</text></g>
<g transform="translate(184.5 222.9) scale(0.91 1)"><text id="yd2" x="0" y="0" font-family='"Liberation Serif", serif' font-size="13.2" fill="#3c3c3c" text-anchor="end">0</text></g>
<g transform="translate(184.5 247) scale(0.91 1)"><text id="yd3" x="0" y="0" font-family='"Liberation Serif", serif' font-size="13.2" fill="#3c3c3c" text-anchor="end">-0.5</text></g>
<g transform="translate(184.5 272.5) scale(0.91 1)"><text id="yd4" x="0" y="0" font-family='"Liberation Serif", serif' font-size="13.2" fill="#3c3c3c" text-anchor="end">6</text></g>
<g transform="translate(184.5 295.85) scale(0.91 1)"><text id="yd5" x="0" y="0" font-family='"Liberation Serif", serif' font-size="13.2" fill="#3c3c3c" text-anchor="end">0</text></g>
<g transform="translate(184.5 318.9) scale(0.91 1)"><text id="yd6" x="0" y="0" font-family='"Liberation Serif", serif' font-size="13.2" fill="#3c3c3c" text-anchor="end">-6</text></g>
<g transform="translate(203.05 161.9) scale(0.91 1)"><text id="xb-0.03" x="0" y="0" font-family='"Liberation Serif", serif' font-size="13.2" fill="#3c3c3c" text-anchor="middle">-0.03</text></g>
<g transform="translate(242.2 161.9) scale(0.91 1)"><text id="xb-0.015" x="0" y="0" font-family='"Liberation Serif", serif' font-size="13.2" fill="#3c3c3c" text-anchor="middle">-0.015</text></g>
<g transform="translate(282.55 161.9) scale(0.91 1)"><text id="xb0" x="0" y="0" font-family='"Liberation Serif", serif' font-size="13.2" fill="#3c3c3c" text-anchor="middle">0</text></g>
<g transform="translate(321.7 161.9) scale(0.91 1)"><text id="xb0.015" x="0" y="0" font-family='"Liberation Serif", serif' font-size="13.2" fill="#3c3c3c" text-anchor="middle">0.015</text></g>
<g transform="translate(360.85 161.9) scale(0.91 1)"><text id="xb0.03" x="0" y="0" font-family='"Liberation Serif", serif' font-size="13.2" fill="#3c3c3c" text-anchor="middle">0.03</text></g>
<g transform="translate(208.25 341.5) scale(0.91 1)"><text id="xd-0.02" x="0" y="0" font-family='"Liberation Serif", serif' font-size="13.2" fill="#3c3c3c" text-anchor="middle">-0.02</text></g>
<g transform="translate(244.55 341.5) scale(0.91 1)"><text id="xd-0.01" x="0" y="0" font-family='"Liberation Serif", serif' font-size="13.2" fill="#3c3c3c" text-anchor="middle">-0.01</text></g>
<g transform="translate(282.85 341.5) scale(0.91 1)"><text id="xd0" x="0" y="0" font-family='"Liberation Serif", serif' font-size="13.2" fill="#3c3c3c" text-anchor="middle">0</text></g>
<g transform="translate(319.15 341.5) scale(0.91 1)"><text id="xd0.01" x="0" y="0" font-family='"Liberation Serif", serif' font-size="13.2" fill="#3c3c3c" text-anchor="middle">0.01</text></g>
<g transform="translate(355.45 341.5) scale(0.91 1)"><text id="xd0.02" x="0" y="0" font-family='"Liberation Serif", serif' font-size="13.2" fill="#3c3c3c" text-anchor="middle">0.02</text></g>
</svg>
</body></html>
